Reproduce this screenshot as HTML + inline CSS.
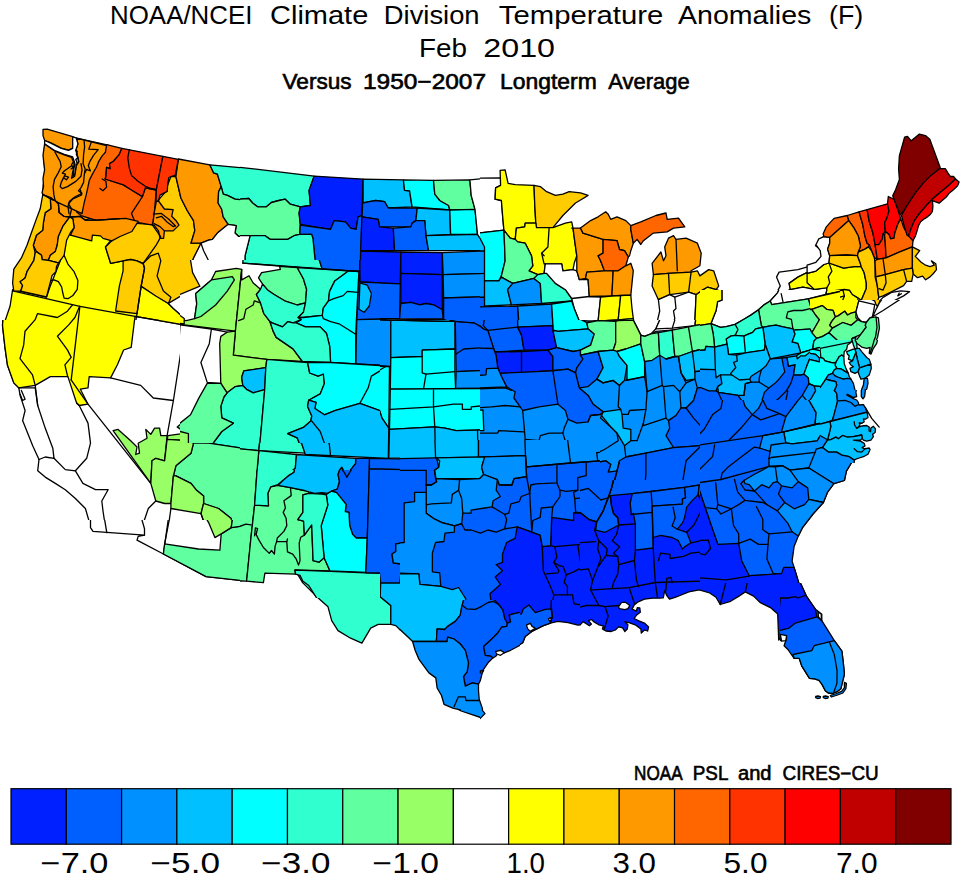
<!DOCTYPE html>
<html><head><meta charset="utf-8"><title>NOAA/NCEI Climate Division Temperature Anomalies (F) Feb 2010</title>
<style>
html,body{margin:0;padding:0;background:#fff;}
body{width:961px;height:875px;overflow:hidden;font-family:"Liberation Sans",sans-serif;}
svg{display:block;position:absolute;left:0;top:0;}
text{font-family:"Liberation Sans",sans-serif;fill:#000;}
.map polygon{stroke:#000;stroke-width:1.3;stroke-linejoin:round;}
.map polyline{stroke:#000;stroke-width:1.3;stroke-linejoin:round;stroke-linecap:round;}
.leg rect{stroke:#000;stroke-width:1.2;}
</style></head><body>
<svg width="961" height="875" viewBox="0 0 961 875">
<defs>
<clipPath id="c0"><rect x="0" y="100" width="240" height="220"/></clipPath>
<clipPath id="c1"><rect x="240" y="100" width="240" height="220"/></clipPath>
<clipPath id="c2"><rect x="480" y="100" width="240" height="220"/></clipPath>
<clipPath id="c3"><rect x="720" y="100" width="241" height="220"/></clipPath>
<clipPath id="c4"><rect x="0" y="320" width="240" height="200"/></clipPath>
<clipPath id="c5"><rect x="240" y="320" width="240" height="200"/></clipPath>
<clipPath id="c6"><rect x="180" y="260" width="200" height="183"/></clipPath>
<clipPath id="c7"><rect x="480" y="320" width="240" height="200"/></clipPath>
<clipPath id="c8"><rect x="720" y="320" width="241" height="200"/></clipPath>
<clipPath id="c9"><rect x="700" y="290" width="140" height="128"/></clipPath>
<clipPath id="c10"><rect x="810" y="300" width="90" height="82"/></clipPath>
<clipPath id="c11"><rect x="0" y="520" width="240" height="220"/></clipPath>
<clipPath id="c12"><rect x="240" y="520" width="240" height="220"/></clipPath>
<clipPath id="c13"><rect x="240" y="470" width="140" height="128"/></clipPath>
<clipPath id="c14"><rect x="480" y="520" width="240" height="220"/></clipPath>
<clipPath id="c15"><rect x="400" y="440" width="200" height="183"/></clipPath>
<clipPath id="c16"><rect x="480" y="600" width="120" height="110"/></clipPath>
<clipPath id="c17"><rect x="400" y="600" width="120" height="110"/></clipPath>
<clipPath id="c18"><rect x="720" y="520" width="241" height="220"/></clipPath>
<clipPath id="c19"><rect x="580" y="480" width="200" height="183"/></clipPath>
<clipPath id="c20"><rect x="700" y="400" width="200" height="183"/></clipPath>
<clipPath id="c21"><rect x="820" y="340" width="80" height="73"/></clipPath>
<clipPath id="c22"><rect x="820" y="390" width="80" height="73"/></clipPath>
</defs>
<rect x="0" y="0" width="961" height="875" fill="#fff"/>
<text x="110" y="24.2" font-size="25.6" textLength="142.5" lengthAdjust="spacingAndGlyphs">NOAA/NCEI</text>
<text x="270" y="24.2" font-size="25.6" textLength="98.3" lengthAdjust="spacingAndGlyphs">Climate</text>
<text x="383.8" y="24.2" font-size="25.6" textLength="95.8" lengthAdjust="spacingAndGlyphs">Division</text>
<text x="498.8" y="24.2" font-size="25.6" textLength="164.5" lengthAdjust="spacingAndGlyphs">Temperature</text>
<text x="678" y="24.2" font-size="25.6" textLength="133.3" lengthAdjust="spacingAndGlyphs">Anomalies</text>
<text x="829" y="24.2" font-size="25.6" textLength="34.3" lengthAdjust="spacingAndGlyphs">(F)</text>
<text x="419" y="57" font-size="25.6" textLength="48" lengthAdjust="spacingAndGlyphs">Feb</text>
<text x="483.3" y="57" font-size="25.6" textLength="71.7" lengthAdjust="spacingAndGlyphs">2010</text>
<text x="282.5" y="88.7" font-size="21.4" textLength="69.2" lengthAdjust="spacingAndGlyphs" stroke="#000" stroke-width="0.6">Versus</text>
<text x="363" y="88.7" font-size="21.4" textLength="123" lengthAdjust="spacingAndGlyphs" stroke="#000" stroke-width="0.6">1950−2007</text>
<text x="500" y="88.7" font-size="21.4" textLength="96.7" lengthAdjust="spacingAndGlyphs" stroke="#000" stroke-width="0.6">Longterm</text>
<text x="608.3" y="88.7" font-size="21.4" textLength="81.3" lengthAdjust="spacingAndGlyphs" stroke="#000" stroke-width="0.6">Average</text>
<g class="map">
<g clip-path="url(#c0)">
<polygon fill="#ffff00" points="140.7,235.7 67.9,234.4 60.3,260.8 50.3,285.9 46.5,297.2 12.6,289.7 10.1,306 5,321.1 1.3,336.2 251.3,336.2 186,326.1 184.7,318.6 173.4,308.5 168.4,303.5 140.7,285.9 143.2,263.3 123.1,260.8 110.6,263.3 105.5,247 110.6,240.7"/>
<polygon fill="#ffffff" points="135,316.3 185,325.1 186,336.2 133.2,336.2"/>
<polyline fill="none" points="13.8,291.2 79.9,306.3 135,316.3 185,325.1 236.2,332.2"/>
<polygon fill="#ff9900" points="44.7,145.2 76.6,138.1 108.1,145.2 100.5,172.8 88,219.3 72.9,220.6 60.3,216.8 50.3,203 42.7,196.7 43.2,185.4 45.2,175.3 44,160.3"/>
<polygon fill="#ffcc00" points="164.6,192.9 170.9,176.6 175.9,176.6 180.9,198 187.2,210.5 193.5,220.6 194.8,230.6 191,243.2 201,243.2 193.5,258.3 191,265.8 193.5,275.9 198.5,285.9 180.9,296 168.4,303.5 155.8,296 140.7,285.9 143.2,263.3 137,260.8 130.7,259.5 123.1,260.8 110.6,263.3 105.5,247 114.3,238.2 131.9,223.1 152,224.3 157.1,201.7"/>
<polygon fill="#ffcc00" points="123.1,260.8 130.7,259.5 137,260.8 143.2,263.8 144.5,268.3 141.2,285.9 137,313.6 115.6,311 119.4,285.9 123.1,270.8"/>
<polygon fill="#ff9900" points="178.4,159 209.8,164.8 213.6,172.8 217.4,174.1 221.2,186.6 218.6,191.7 218.1,203 221.7,209.3 223.2,216.8 228.2,224.3 217.4,233.1 212.4,239.4 208.6,240.2 201,243.2 191,243.2 194.8,230.6 193.5,220.6 187.2,210.5 180.9,198 175.9,176.6"/>
<polygon fill="#30ffd0" points="209.8,164.8 251.3,168.6 251.3,200.5 235,199.2 227.4,195.4 223.2,194.2 221.2,186.6 217.4,174.1 213.6,172.8"/>
<polygon fill="#60ffa0" points="221.2,186.6 223.2,194.2 227.4,195.4 235,199.2 251.3,200.5 251.3,235.7 238.7,236.4 235,233.1 236.2,225.6 228.2,224.3 223.2,216.8 221.7,209.3 218.1,203 218.6,191.7"/>
<polygon fill="#ffffff" points="201,243.2 208.6,240.2 212.4,239.4 217.4,233.1 228.2,224.3 236.2,225.6 235,233.1 238.7,236.4 251.3,235.7 251.3,268.3 237.5,268.8 213.6,273.4 201,285.9 198.5,285.9 193.5,275.9 191,265.8 193.5,258.3"/>
<polygon fill="#ffffff" points="168.4,303.5 180.9,296 196,290.9 198.5,301 193.5,318.6 188.5,319.1 184.7,318.6 173.4,308.5"/>
<polygon fill="#60ffa0" points="213.6,273.4 237.5,268.8 233.7,280.9 226.2,296 211.1,311 201,318.6 193.5,318.6 198.5,301 196,290.9 198.5,285.9 201,285.9"/>
<polygon fill="#99ff66" points="184.7,318.6 188.5,319.1 193.5,318.6 201,318.6 211.1,311 226.2,296 233.7,280.9 237.5,268.8 251.3,268.3 251.3,336.2 186,336.2 186,326.1"/>
<polygon fill="#ff6600" points="106.6,144.6 121.9,148.3 119,154.9 113.2,161.5 109.5,163.6 110.2,168.8 106.6,167.3 105.9,176.8 105.1,179 123.4,184.9 131.5,190 142.4,196.6 145.4,187.8 156.3,190 154.4,211.9 152.7,225.1 131.5,221.4 119,219.2 108.8,219.5 97.1,220.7 81,215.6 76.6,211.9 82.4,188.5 91.2,166.6 98.5,157.8 99.3,150.5"/>
<polygon fill="#ff3300" points="121.9,148.3 162.9,156.3 156.3,190 145.4,187.8 142.4,196.6 131.5,190 123.4,184.9 105.1,179 105.9,176.8 106.6,167.3 110.2,168.8 109.5,163.6 113.2,161.5 119,154.9"/>
<polygon fill="#ff3300" points="162.9,156.3 178.3,159.3 175.3,175.4 172.4,176.1 168.8,177.5 167.6,185.6 167.3,191.4 160,195.1 158.5,201 156,201.7 156.3,190"/>
<polyline fill="none" points="129.3,149.7 127.8,157.8 129.3,168 131.5,175.4 138,181.2 145.4,186.3 151.2,188.5 156.3,189.5"/>
<polyline fill="none" points="142.4,196.6 131.5,213.4 135.1,222.2"/>
<polyline fill="none" points="102.2,179 105.9,181.2 106.6,187.1 102.9,190.7 100,188.5"/>
<polygon fill="#ff9900" points="156.3,201.7 158.5,201 164.4,209 173.1,209.7 171.7,216.3 176.1,220.7 179,225.1 173.1,230.9 164.4,230.9 163.6,238.3 160,238.3 158.5,230.9 154.1,225.1 152.7,225.1 154.4,211.9"/>
<polyline fill="none" points="153.4,214.1 161.4,213.4 168.8,219.2 175.3,225.8"/>
<polyline fill="none" points="156.3,217.8 161.4,216.3 167.3,222.2 173.1,226.6 175.3,225.8"/>
<polyline fill="none" points="154.1,223.6 160,226.6 164.4,230.9"/>
<polygon fill="#ff9900" points="43,129.4 47.2,129.2 72.7,136.6 72.7,148.1 68.5,150.2 61.2,148.1 50.8,142.9 44.6,140.3 43,135.6"/>
<polygon fill="#ff9900" points="76.3,138.2 106.5,145.5 105.4,152.3 101.8,156.4 98.7,161.6 96.6,166.8 92.4,174.1 89.3,180.4 87.8,187.6 86.2,194.9 84.1,203.2 82,213.7 55,201.2 50.8,197.5 43.5,194.9 42,192.8 43.5,186.6 43,178.3 44.6,169.9 43,155.4 44.6,143.9 55,151.2 64.3,154.9 71.6,157.5 74.2,163.7 73.2,169.9 71.6,178.3 74.7,176.2 76.3,165.8 78.9,161.6 77.3,155.4 75.8,150.2 77.9,143.9"/>
<polygon fill="#ffffff" points="72.7,136.6 76.3,138.2 77.9,143.9 75.8,150.2 77.3,155.4 78.4,161.6 76.3,164.7 74.7,174.1 72.9,176.7 73.7,169.9 75,163.7 72.7,156.9 64.3,154.3 55,150.7 44.6,143.7 44.6,140.5 50.8,143.1 61.2,148.3 68.5,150.4 72.7,148.3"/>
<polyline fill="none" points="75.8,150.2 77.3,151.2 76.3,154.3 77.9,157.5 75.8,159.5 77,162.7"/>
<polyline fill="none" points="73.7,161.6 71.6,164.7 72.9,167.9 71.1,168.9"/>
<polyline fill="none" points="65.4,176.2 68.5,177.2 66.4,179.8 64.3,178.3"/>
<polyline fill="none" points="55,152.3 60.2,161.6 61.2,166.8 58.1,173.1 54.5,179.3 53.1,186.6 53.9,194.9 55,200.1"/>
<polyline fill="none" points="71.6,165.8 64.3,171 62.3,173.1 65.4,174.1 61.2,182.4 60.2,186.6 62.3,188.7 67.5,186.6 75.8,181.4 81,176.2 82,169.9 81,163.7"/>
<polyline fill="none" points="84.1,140.3 84.6,147.1 83.6,154.3 83.1,163.7 85.2,168.9 84.1,176.2 83.6,182.4 81,187.6 78.4,190.8 82,193.4 74.7,197 69.5,201.2 68,206.4 69,213.7"/>
<polyline fill="none" points="91.4,141.9 88.8,149.1 98.2,149.7 93.5,155.4 89.8,161.6 88.3,165.8 90.4,171 86.7,169.4 84.6,173.1"/>
<polygon fill="#ff9900" points="70.4,217 80.4,216.4 85.4,220.2 98,220.2 125.7,218.3 138.2,221.4 131.9,231.5 120,236.5 111.8,240.9 103,238.4 100.5,235.9 92.4,235.2 91.7,240.9 70.4,235.2 74.1,227.7 72.9,218.9"/>
<polygon fill="#ff9900" points="50.3,198.8 55.3,200.7 58.4,203.8 59.1,212.6 64.1,216.4 69.7,217 62.8,226.4 58.4,236.5 57.2,245.3 55.3,251.6 50.3,255.3 48.4,260.4 42.1,259.7 41.5,255.3 36.4,251.6 33.3,245.3 36.4,235.2 42.7,230.2 43.4,222.7 45.2,212.6 50.9,208.8"/>
<polygon fill="#ffcc00" points="42.7,195 45.2,195.7 50.3,198.8 50.9,208.8 45.2,212.6 43.4,222.7 42.7,230.2 36.4,235.2 33.3,245.3 35.2,252.8 33.9,260.4 27,271.7 25.1,278 20.1,281.7 22.6,285.5 20.7,291.2 13.8,291.2 12.6,283 13.8,269.2 21.4,257.9 27,245.3 31.4,232.7 36.4,218.9 40.2,208.8"/>
<polygon fill="#ffcc00" points="69.7,217 72.9,218.9 74.1,227.7 70.4,232.7 66.6,240.3 64.1,255.3 58.4,262.9 48.4,260.4 50.3,255.3 55.3,251.6 57.2,245.3 58.4,236.5 62.8,226.4"/>
<polygon fill="#ffcc00" points="35.2,252.8 36.4,251.6 41.5,255.3 42.1,259.7 48.4,260.4 58.4,262.9 56.5,266.6 55.9,271.7 52.1,275.4 46.5,296.8 20.7,291.2 22.6,285.5 20.1,281.7 25.1,278 27,271.7 33.9,260.4"/>
<polyline fill="none" points="64.1,255.3 67.9,264.1 74.1,271.7 77.9,280.5 77.3,289.3 72.9,295.5 67.9,298.7 64.1,298.1 62.8,293 61.6,286.8 58.4,281.7 54,279.8 51.5,280.5"/>
<polyline fill="none" points="42.7,195 45.2,195.7 50.3,198.8 55.3,200.7 58.4,203.8 59.1,212.6 64.1,216.4 70.4,217 80.4,216.4 85.4,220.2 98,220.2 120,218.6"/>
<polyline fill="none" points="69.7,217 71.6,208.8 68.5,203.8 72.9,198.8 81.7,195 80.4,190"/>
<polyline fill="none" points="152,224.3 160.8,236.9 155.8,245.7 143.2,263.3 144.5,268.3 141.2,285.9 137,313.6 133.2,336.2"/>
<polyline fill="none" points="143.2,263.3 150.8,255.8 158.3,253.2 160.8,260.8 157.1,275.9 163.4,290.9 170.9,297.2 168.4,303.5"/>
<polyline fill="none" points="201,243.2 203.6,250.7 208.6,260.8 213.6,273.4"/>
<polyline fill="none" points="237.5,268.8 238.7,301 240,336.2"/>
</g>
<g clip-path="url(#c1)">
<polygon fill="#30ffd0" points="227.4,165.8 240,167.3 314.1,176.1 309.1,190.4 310.4,205.5 300.3,206.8 290.3,204.2 285.2,199.2 279,200.5 271.4,202.5 266.4,206.8 257.6,206.8 252.6,203 248.8,198.5 240,199.2 227.4,198"/>
<polygon fill="#60ffa0" points="227.4,198 240,199.2 248.8,198.5 252.6,203 257.6,206.8 266.4,206.8 271.4,202.5 279,200.5 285.2,199.2 290.3,204.2 300.3,206.8 299.1,213 300.3,224.3 299.8,234.4 294,235.7 287.7,239.4 270.2,239.4 265.1,235.7 250.1,235.7 227.4,235.7"/>
<polygon fill="#0020ff" points="314.1,176.1 363.1,179.1 361.9,215.5 358.1,216.8 356.1,229.4 350.6,228.1 345.5,221.8 334.2,220.6 330.5,229.4 300.3,224.3 299.1,213 300.3,206.8 310.4,205.5 309.1,190.4"/>
<polygon fill="#0060ff" points="300.3,225.1 330.5,229.4 334.2,220.6 345.5,221.8 350.6,228.1 356.1,229.4 358.1,216.8 361.9,215.5 360.6,270.8 322.9,268.8 315.4,263.3 312.9,238.2 311.6,234.4 299.8,234.4"/>
<polygon fill="#30ffd0" points="250.1,235.7 265.1,235.7 270.2,239.4 287.7,239.4 294,235.7 299.8,234.4 311.6,234.4 312.9,238.2 315.4,263.3 322.9,268.8 245,262 245,255.8"/>
<polygon fill="#ffffff" points="227.4,235.7 250.1,235.7 245,255.8 245,262 227.4,260.8"/>
<polygon fill="#00c0ff" points="363.1,179.1 403.4,179.9 404.6,190.4 409.6,190.9 412.1,206.8 388.3,208 384.5,201.7 375.7,200.5 369.4,201.7 363.1,203"/>
<polygon fill="#00ffff" points="403.4,179.9 433.5,180.4 434.8,194.2 439.8,200.5 448.6,205.5 449.8,210 412.1,206.8 409.6,190.9 404.6,190.4"/>
<polygon fill="#60ffa0" points="433.5,180.4 469.9,179.9 471.2,195.4 475,209.3 449.8,210 448.6,205.5 439.8,200.5 434.8,194.2"/>
<polygon fill="#0060ff" points="362.6,203 369.4,201.7 375.7,200.5 384.5,201.7 388.3,208 417.2,208 415.9,220.6 412.1,223.1 410.9,226.9 379.5,226.9 378.2,219.3 362.1,216.8"/>
<polygon fill="#0020ff" points="361.9,216.8 378.2,219.3 379.5,226.9 393.3,228.1 394.6,250.7 360.6,250.7"/>
<polygon fill="#00c0ff" points="417.2,208 449.8,210 450.6,234.4 426,235.7 424.7,220.6 415.9,220.6"/>
<polygon fill="#00ffff" points="449.8,210 475,209.3 477.5,234.4 450.6,234.4"/>
<polygon fill="#0060ff" points="393.3,228.1 410.9,226.9 412.1,223.1 415.9,220.6 424.7,220.6 426,235.7 428.5,250.7 394.6,250.7"/>
<polygon fill="#00c0ff" points="426,235.7 477.5,234.4 480,238.2 491.3,239.4 491.3,250.7 428.5,250.7"/>
<polygon fill="#ffffff" points="469.9,179.9 491.3,177.9 491.3,239.4 480,238.2 477.5,234.4 475,209.3 471.2,195.4"/>
<polygon fill="#0020ff" points="360.6,251.2 400.8,252 400.3,283.9 360.1,282.1"/>
<polygon fill="#0020ff" points="400.8,252 442.3,252.7 442.3,274.6 400.8,273.4"/>
<polygon fill="#0090ff" points="442.3,252.7 491.3,250.7 491.3,273.4 443.1,274.6"/>
<polygon fill="#0060ff" points="360.1,282.1 400.3,283.9 399.6,318.6 357.6,318.6"/>
<polygon fill="#00c0ff" points="360.1,282.1 365.7,283.4 370.7,288.4 371.9,296 368.2,306 364.4,312.3 358.1,308.5"/>
<polygon fill="#0020ff" points="400.8,273.4 442.3,274.6 442.3,309.8 433.5,304.8 426,303.5 419.7,304.8 410.9,302.3 400.8,303.5"/>
<polygon fill="#0060ff" points="400.8,303.5 410.9,302.3 419.7,304.8 426,303.5 433.5,304.8 442.3,309.8 443.1,319.1 399.6,318.6"/>
<polygon fill="#0090ff" points="443.1,274.6 491.3,273.4 491.3,296.5 443.6,298"/>
<polygon fill="#0060ff" points="443.6,298 491.3,296.5 491.3,323.6 456.1,324.9 443.6,319.8"/>
<polygon fill="#0090ff" points="357.6,318.6 390.8,319.8 390.8,336.2 355.6,336.2"/>
<polygon fill="#00c0ff" points="390.8,319.8 443.1,319.1 456.1,324.9 456.1,336.2 390.8,336.2"/>
<polygon fill="#0060ff" points="456.1,324.9 491.3,323.6 491.3,336.2 456.1,336.2"/>
<polygon fill="#99ff66" points="227.4,270.8 248.8,275.9 255.1,285.9 261.4,287.2 257.6,290.9 255.1,301 265.1,313.6 272.7,336.2 227.4,336.2"/>
<polygon fill="#ffffff" points="245,262.5 280.2,265.1 277.7,270.8 260.1,273.4 257.6,278.4 263.9,283.4 261.4,287.2 255.1,285.9 248.8,275.9 227.4,270.8 227.4,260.8"/>
<polygon fill="#60ffa0" points="260.1,273.4 277.7,270.8 297.8,272.1 302.8,278.4 306.6,285.9 307.9,301 290.3,304.8 281.5,302.3 275.2,298.5 270.2,293.5 267.6,289.7 263.9,283.4 257.6,278.4"/>
<polygon fill="#30ffd0" points="257.6,290.9 261.4,287.2 263.9,283.4 267.6,289.7 270.2,293.5 275.2,298.5 281.5,302.3 290.3,304.8 302.8,304.8 300.3,318.6 287.7,322.4 270.2,323.6 272.7,336.2 265.1,313.6 255.1,301"/>
<polygon fill="#30ffd0" points="280.2,265.1 349.3,270.3 335.5,283.4 328,296 328,303.5 322.9,311 320.4,318.6 300.3,318.6 302.8,304.8 307.9,301 306.6,285.9 302.8,278.4 297.8,272.1 277.7,270.8"/>
<polygon fill="#00ffff" points="349.3,270.3 360.1,271.1 358.1,336.2 270.2,336.2 270.2,323.6 287.7,322.4 300.3,318.6 320.4,318.6 322.9,311 328,303.5 328,296 335.5,283.4"/>
<polyline fill="none" points="245,262.5 360.1,271.1"/>
<polyline fill="none" points="322.9,311 335.5,301 345.5,293.5 358.1,296"/>
<polyline fill="none" points="297.8,318.6 315.4,317.3 322.9,323.6 340.5,326.1 348.1,336.2"/>
</g>
<g clip-path="url(#c2)">
<polygon fill="#ffffff" points="467.4,178.4 500.6,177.9 500.6,185.4 495.6,187.9 495.1,199.2 501.4,200.5 502.6,215.5 503.9,230.1 467.4,234.4"/>
<polygon fill="#ffff00" points="500.1,170.3 505.1,169.8 508.1,183.4 515.2,184.6 534,185.4 534.8,205.5 535.8,223.1 525.2,223.1 524.7,226.9 516.4,228.1 515.2,239.4 510.2,238.2 503.9,230.1 502.6,215.5 501.4,200.5 495.1,199.2 495.6,187.9 500.6,185.4"/>
<polygon fill="#ffcc00" points="534,185.4 540.3,186.6 546.6,191.7 555.4,195.4 562.9,194.2 569.2,191.7 580.5,192.9 588.1,195.4 581.8,199.2 575.5,203 569.2,209.3 562.9,215.5 552.9,227.6 536.5,227.6 535.8,223.1 534.8,205.5"/>
<polygon fill="#ffff00" points="516.4,228.1 524.7,226.9 525.2,223.1 535.8,223.1 536.5,227.6 552.9,227.6 565.4,223.1 571.7,221.8 573,228.1 575,243.2 576.8,255.8 574.2,263.3 573,269.6 562.9,270.8 561.7,263.8 545.3,263.8 544.1,273.4 537.8,274.6 529,270.8 532.8,265.8 531.5,255.8 525.2,243.2 517.7,241.9 515.2,239.4"/>
<polyline fill="none" points="549.1,228.1 547.9,247 541.6,253.2 544.1,263.8 545.3,263.8"/>
<polyline fill="none" points="541.6,253.2 544.1,255.8"/>
<polygon fill="#00ffff" points="467.4,234.4 503.9,230.1 504.6,245.7 505.1,260.8 501.4,275.9 498.8,280.9 485,280.9 467.4,282.1"/>
<polygon fill="#60ffa0" points="503.9,230.1 510.2,238.2 515.2,239.4 517.7,241.9 525.2,243.2 531.5,255.8 532.8,265.8 529,270.8 537.8,274.6 534,278.4 512.7,283.4 501.4,277.1 501.4,275.9 505.1,260.8 504.6,245.7"/>
<polygon fill="#00c0ff" points="467.4,282.1 485,280.9 498.8,280.9 501.4,277.1 512.7,283.4 507.6,289.7 511.4,304.8 486.3,306 467.4,306.5"/>
<polygon fill="#0090ff" points="512.7,283.4 534,278.4 540.3,283.4 541.6,303.5 511.4,304.8 507.6,289.7"/>
<polygon fill="#30ffd0" points="534,278.4 537.8,274.6 544.1,273.4 546.6,273.4 555.4,283.4 565.4,289.7 571.7,298.5 571.7,301 541.6,303.5 540.3,283.4"/>
<polygon fill="#00c0ff" points="467.4,236.9 480,238.2 484.5,247 484.5,251.2 467.4,251.2"/>
<polygon fill="#0090ff" points="467.4,251.2 484.5,251.2 484.5,297.2 467.4,298"/>
<polyline fill="none" points="467.4,273.9 484.5,273.4"/>
<polygon fill="#0060ff" points="467.4,298 484.5,297.2 484.5,306.5 483.3,308 485.3,313.8 483.3,325.6 487.5,329.9 487.5,336.2 467.4,336.2"/>
<polygon fill="#ffffff" points="545.3,263.8 561.7,263.8 562.9,270.8 573,269.6 576.8,270.8 579.3,279.6 588.1,279.6 589.3,296.5 600.6,297.2 598.1,321.1 579.3,321.1 574.2,308.5 571.7,298.5 565.4,289.7 555.4,283.4 546.6,273.4 544.1,273.4"/>
<polyline fill="none" points="571.7,298.5 589.3,296.5"/>
<polygon fill="#0060ff" points="467.4,307.3 517.7,306 519,326.1 519,336.2 467.4,336.2"/>
<polygon fill="#0090ff" points="517.7,306 551.6,304 552.9,323.6 552.9,336.2 519,336.2 519,326.1"/>
<polygon fill="#00ffff" points="551.6,304 571.7,301 574.2,308.5 579.3,321.1 588.1,326.1 590.6,336.2 552.9,336.2 552.9,323.6"/>
<polygon fill="#ff9900" points="571.7,228.1 580.5,228.1 583,233.1 603.1,239.4 603.1,253.2 598.1,255.8 600.6,260.8 604.4,270.8 586.8,272.1 585.5,278.4 579.3,279.6 576.8,270.8 576.8,255.8 575,243.2 573,228.1"/>
<polygon fill="#ff9900" points="580.5,228.1 590.6,220.6 598.1,216.8 605.7,211.8 608.2,214.3 610.7,219.3 617,216.8 625.8,220.6 630.8,225.6 630.8,229.4 633.3,243.2 630.8,250.7 629.5,255.8 628.3,257 624.5,250.7 619.5,249.5 617,240.7 603.1,239.4 583,233.1"/>
<polygon fill="#ff6600" points="603.1,239.4 617,240.7 619.5,249.5 624.5,250.7 628.3,257 625.8,265.8 618.2,270.8 604.4,270.8 600.6,260.8 598.1,255.8 603.1,253.2"/>
<polygon fill="#ff9900" points="586.8,272.1 604.4,270.8 613.2,270.8 611.9,296 589.3,296.5 588.1,279.6 585.5,278.4"/>
<polygon fill="#ff9900" points="613.2,270.8 618.2,270.8 625.8,265.8 630.8,263.3 633.3,270.8 632,283.4 630.8,295.2 611.9,296"/>
<polygon fill="#ffff00" points="600.6,297.2 611.9,296 620.7,295.5 618.2,319.8 598.1,321.1"/>
<polygon fill="#ffff00" points="620.7,295.5 630.8,295.2 632,308.5 633.3,318.6 618.2,319.8"/>
<polygon fill="#60ffa0" points="588.1,326.1 598.1,321.1 618.2,319.8 617,336.2 590.6,336.2"/>
<polygon fill="#99ff66" points="618.2,319.8 633.3,318.6 637.1,336.2 617,336.2"/>
<polygon fill="#ff6600" points="630.8,225.6 640.8,221.8 655.9,215.5 666,213 667.2,219.3 678.5,218.1 684.8,226.9 673.5,228.1 667.2,231.9 653.4,233.1 643.4,240.7 640.8,244.5 637.1,239.4 633.3,243.2 630.8,229.4"/>
<polygon fill="#ff9900" points="668.5,238.2 673.5,235.7 676,239.4 686.1,238.2 697.4,243.2 701.2,253.2 699.9,265.8 691.1,270.8 691.1,272.1 668.5,273.4 653.4,274.6 652.1,263.3 660.9,252 663.5,260.8 666,255.8 664.7,247"/>
<polyline fill="none" points="676,239.4 677.3,270.8"/>
<polygon fill="#ffcc00" points="653.4,274.6 668.5,273.4 691.1,272.1 697.4,270.8 699.9,275.9 708.7,269.6 713.7,270.8 718.7,285.9 716.2,289.7 707.4,287.2 701.2,290.9 696.1,294.7 688.6,292.2 669.7,294.7 658.4,299.7 652.1,285.9"/>
<polyline fill="none" points="668.5,273.4 669.7,294.7"/>
<polyline fill="none" points="691.1,272.1 688.6,292.2"/>
<polygon fill="#ffffff" points="658.4,299.7 669.7,294.7 674.8,297.2 688.6,292.2 696.1,294.7 694.9,321.1 672.3,326.1 655.9,327.4 659.7,311"/>
<polyline fill="none" points="674.8,297.2 676,308.5 673.5,311 674.8,318.6 672.3,326.1"/>
<polygon fill="#ffff00" points="696.1,294.7 701.2,290.9 707.4,287.2 716.2,289.7 720,290.9 720,301 716.2,308.5 711.2,321.1 694.9,324.9 694.9,321.1"/>
<polygon fill="#60ffa0" points="655.9,327.4 672.3,326.1 694.9,323.6 711.2,321.1 731.3,318.6 731.3,336.2 653.4,336.2"/>
</g>
<g clip-path="url(#c3)">
<polygon fill="#30ffd0" points="707.4,326.1 720,321.1 735.1,313.6 757.7,309.8 760.2,336.2 707.4,336.2"/>
<polygon fill="#60ffa0" points="757.7,309.8 770.3,304.8 808,298.5 811.7,308.5 802.9,311 787.9,313.6 786.6,318.6 792.9,323.6 790.4,336.2 760.2,336.2"/>
<polygon fill="#60ffa0" points="786.6,318.6 787.9,313.6 802.9,311 811.7,308.5 819.3,306 833.1,308.5 838.1,316.1 843.1,336.2 790.4,336.2 792.9,323.6"/>
<polygon fill="#ffffff" points="823,236.9 830.6,238.2 828.1,247 830.6,257 830.6,263.3 820.5,265.8 797.9,277.1 789.1,283.4 790.4,289.7 781.6,293.5 782.8,302.3 770.3,304.8 780.3,285.9 776.5,277.1 779.1,272.1 797.9,269.6 815.5,264.6 823,258.3 820.5,249.5 815.5,245.7 820.5,240.7"/>
<polygon fill="#ffff00" points="789.1,283.4 797.9,277.1 820.5,265.8 830.6,263.3 831.8,268.3 828.1,275.9 826.8,287.2 815.5,289.7 802.9,287.2 790.4,289.7"/>
<polygon fill="#ffffff" points="781.6,293.5 790.4,289.7 802.9,287.2 815.5,289.7 826.8,287.2 826.8,293 808,298.5 782.8,302.3"/>
<polygon fill="#99ff66" points="802.7,306.9 820.2,303.3 824.6,307.6 834.1,310.6 837.8,316.4 843.6,315 845.1,310.6 849.5,312 853.9,316.4 856.8,326.7 802.7,326.7"/>
<polygon fill="#ffff00" points="798.3,299.6 810,296.7 842.9,290.1 844.4,289.4 849.5,290.1 852.4,294.5 858.3,298.1 856.8,303.3 855.4,310.6 849.5,312 845.1,310.6 843.6,315 837.8,316.4 834.1,310.6 824.6,307.6 820.2,303.3 810,306.9 798.3,310.6"/>
<polyline fill="none" points="842.9,290.1 844.4,295.9 841.5,303.3 834.1,310.6"/>
<polyline fill="none" points="810,306.9 820.2,303.3 839.3,297.4 844.4,295.9"/>
<polygon fill="#ffff00" points="807.1,273.3 815.9,271.1 823.9,264.5 829,263 839.3,266.7 843.6,268.1 853.9,266.7 861.2,266.7 864.1,272.5 866.3,282.8 866.3,288.6 861.2,300.6 858.3,298.1 852.4,294.5 849.5,290.1 844.4,289.4 826.8,291.6 826.8,287.9 814.4,289.4 807.1,282.8"/>
<polyline fill="none" points="829,263 831.9,271.1 828.3,276.9 829.7,282.8 826.8,287.9"/>
<polygon fill="#ffffff" points="823.9,236.7 829.7,237.4 829.7,243.3 827.6,249.1 829.7,255.7 829,263 823.9,264.5 815.9,271.1 807.1,273.3 807.1,265.2 815.9,262.3 821,256.4 820.2,250.6 815.9,244.7 818.8,238.9"/>
<polygon fill="#ff6600" points="834.1,218.4 847.3,215.5 848.8,220.6 829.7,237.4 823.9,236.7 823.2,233.8 826.1,227.2 830.5,222.1"/>
<polygon fill="#ff6600" points="847.3,215.5 859,211.8 860.5,216.9 862.7,224.3 864.9,236 867.1,243.3 869.2,244.7 868.5,246.9 864.9,249.1 858.3,252.1 860.5,246.2 858.3,236 853.9,227.9 848.8,220.6"/>
<polygon fill="#ff3300" points="859,211.8 867.1,209.6 869.2,221.3 872.9,233 875.1,244.7 877.3,259.4 874.4,257.9 871.4,250.6 869.2,244.7 867.1,243.3 864.9,236 862.7,224.3 860.5,216.9"/>
<polygon fill="#ff9900" points="829.7,237.4 848.8,220.6 853.9,227.9 858.3,236 860.5,246.2 858.3,252.1 857.5,255.7 846.6,255 829.7,255.7 827.6,249.1 829.7,243.3"/>
<polygon fill="#ffcc00" points="829.7,255.7 846.6,255 857.5,255.7 860.5,263.8 861.2,266.7 853.9,266.7 843.6,268.1 839.3,266.7 829,263"/>
<polygon fill="#ffcc00" points="858.3,252.1 864.9,249.1 868.5,246.9 871.4,250.6 874.4,257.9 875.1,263.8 875.1,276.9 877.3,285.7 878.8,297.4 876.6,304 875.1,306.9 874.4,304.3 861.2,300.6 866.3,288.6 866.3,282.8 864.1,272.5 861.2,266.7 860.5,263.8 857.5,255.7"/>
<polygon fill="#ff0000" points="867.1,209.6 887.5,203.8 889,211.1 886.8,218.4 884.6,222.8 885.3,231.6 883.1,233.8 882.4,238.9 878.8,244.7 875.1,244.7 872.9,233 869.2,221.3"/>
<polygon fill="#ff3300" points="875.1,244.7 878.8,244.7 882.4,238.9 883.1,233.8 884.6,235.2 885.3,243.3 886.1,257.9 877.3,259.4"/>
<polygon fill="#ff0000" points="887.5,203.8 888.3,196.5 894.1,199.4 897.8,209.6 900.7,218.4 897.8,224.3 894.8,233 894.1,238.2 890.5,238.9 889,234.5 885.3,231.6 884.6,222.8 886.8,218.4 889,211.1"/>
<polygon fill="#ff6600" points="900.7,218.4 903.6,227.2 908,235.2 913.1,239.6 912.4,246.9 899.2,252.1 886.1,257.9 885.3,243.3 884.6,235.2 885.3,231.6 889,234.5 890.5,238.9 894.1,238.2 894.8,233 897.8,224.3"/>
<polygon fill="#ff9900" points="875.1,260.8 877.3,259.4 886.1,257.9 899.2,252.1 912.4,246.9 912.4,268.1 903.6,269.6 885.3,274.7 875.8,276.9 875.1,263.8"/>
<polyline fill="none" points="883.1,259.4 885.3,274.7"/>
<polygon fill="#ffcc00" points="912.4,246.9 915.3,248.4 919.7,250.6 915.3,256.4 921.2,262.3 925.6,265.2 930,266.7 934.3,265.2 931.4,260.8 935.8,263.8 936.5,269.6 932.9,274 930,276.9 925.6,279.8 922.6,276.2 917.5,277.7 913.1,274 912.4,268.1"/>
<polygon fill="#ffcc00" points="875.8,276.9 885.3,274.7 903.6,269.6 912.4,268.1 913.1,274 911.7,281.3 906.6,281.3 903.6,285.7 891.9,291.6 883.1,295.9 878.8,297.4 877.3,285.7"/>
<polyline fill="none" points="903.6,269.6 906.6,281.3"/>
<polyline fill="none" points="885.3,274.7 886.1,282.8 883.1,290.1 878.8,288.6"/>
<polygon fill="#ffffff" points="876.6,304 883.1,297.4 891.9,292.3 900.7,290.8 909.5,291.6 903.6,295.9 894.8,300.3 886.1,306.2 878.8,312 874.4,316.4 874.4,310.6"/>
<polyline fill="none" points="899.2,293 897.8,295.9 901.4,293.7"/>
<polygon fill="#ffffff" points="861.2,300.6 874.4,304.3 875.1,306.9 875.1,310.6 872.9,316.4 868.5,320.8 864.1,322.3 858.3,316.4 855.4,310.6 856.8,303.3"/>
<polygon fill="#60ffa0" points="868.5,320.8 872.9,316.4 877.3,317.9 878,326.7 853.9,326.7 853.9,316.4 858.3,316.4 864.1,322.3"/>
<polygon fill="#800000" points="904.6,137.1 907.5,136.3 911.2,140.8 919.4,134.1 925.4,135.6 929.8,139.3 940.2,167.5 900.1,215.1 892.7,195.8 895.6,189.8 899.4,179.4 898.6,169 899.4,155.6"/>
<polygon fill="#c00000" points="939.6,168.7 945.3,168.7 947.8,172.9 950.4,176.5 953.5,176.5 955.5,179 948.3,185.7 940.1,192.4 931.9,199.6 925.7,206.3 919.5,213.5 914.4,220.7 911.3,227.9 908.7,235.6 907.2,235.6 904.1,225.8 901.5,215.5 907.2,205.3 915.4,192.9 923.7,182.6 930.9,175.4"/>
<polygon fill="#ff0000" points="955.5,179 956.1,179.5 959.1,182.1 957.6,185.7 953.5,189.8 949.4,192.9 946.3,197 942.2,200.6 939.1,203.2 935,201.7 932.4,200.6 932.9,206.3 932.4,211.4 930.3,214.5 927.8,216.6 924.7,218.6 920.6,221.7 918.5,225.8 917,231 915.4,236.1 912.9,240.8 908.7,236.1 908.7,235.6 911.3,227.9 914.4,220.7 919.5,213.5 925.7,206.3 931.9,199.6 940.1,192.4 948.3,185.7"/>
</g>
<g clip-path="url(#c4)">
<polygon fill="#ffffff" points="5,297.4 2.5,325.1 5,347.7 7.5,365.3 13.8,382.9 18.8,387.9 20.1,395.4 25.1,410.5 22.6,420.6 27.6,433.1 32.7,445.7 39,459.5 37.7,470.8 45.2,477.1 55.3,483.4 65.3,489.7 75.4,498.5 85.4,508.5 90.5,526.1 91.7,536.2 251.3,536.2 251.3,297.4"/>
<polygon fill="#ffff00" points="5,297.4 2.5,325.1 5,347.7 7.5,365.3 13.8,382.9 18.8,387.9 35.2,385.4 50.3,376.6 67.9,376.6 76.6,403 79.2,405.5 88,404.2 80.4,389.2 88,387.9 89.2,376.6 110.6,377.9 117.4,364.8 123.6,350 131.2,347.4 135,316.3 135.7,297.4"/>
<polyline fill="none" points="71.1,379.9 88,404.2 150.8,483.4"/>
<polyline fill="none" points="18.8,387.9 35.2,387.9 37.7,405.5 45.2,428.1 52.8,448.2 54,458.3 45.2,457 39,459.5"/>
<polyline fill="none" points="35.2,385.4 37.7,405.5"/>
<polyline fill="none" points="76.6,403 79.2,405.5 88,423.1 90.5,443.2 86.7,458.3 75.4,470.8 65.3,469.6 54,458.3"/>
<polyline fill="none" points="75.4,470.8 82.9,483.4 95.5,489.7 108.1,489.7 101.8,501 103,511 106.8,536.2"/>
<polyline fill="none" points="21.4,390.4 25.1,399.2 22.6,400.5 20.1,394.2"/>
<polyline fill="none" points="79.9,306.2 135,316.3 185,325.1 236.2,332.1 251.3,333.9"/>
<polyline fill="none" points="185,325.1 173.4,400.5 167.1,435.7 164.6,460.8"/>
<polyline fill="none" points="110.6,377.9 140.7,385.4 153.3,398 173.4,400.5"/>
<polygon fill="#ffff00" points="135,316.3 185,325.1 186,297.4 135.7,297.4"/>
<polygon fill="#99ff66" points="185,325.1 186,297.4 251.3,297.4 251.3,333.9 236.2,332.1"/>
<polygon fill="#ffcc00" points="115.6,297.4 135.7,297.4 134.5,315 115.6,313"/>
<polygon fill="#60ffa0" points="196,320.1 201,310 213.6,305 208.6,317.5 201,321.3"/>
<polygon fill="#99ff66" points="113.1,430.6 118.1,429.4 130.7,440.7 137,447 135.7,454.5 139.5,453.2 138.2,443.2 147,438.2 145.8,429.4 150.8,434.4 154.6,428.1 159.6,428.1 160.8,435.7 167.1,435.7 164.6,460.8 155.8,458.3 152,460.8 150.8,483.4"/>
<polygon fill="#99ff66" points="221.2,333.9 236.2,331.4 251.3,332.6 251.3,387.9 236.2,386.6 226.2,392.9 221.2,384.1 219.9,352.7"/>
<polyline fill="none" points="233.7,332.6 233.7,355.2 251.3,356.5"/>
<polygon fill="#60ffa0" points="177.2,426.9 191,415.5 201,398 208.6,382.9 221.2,384.1 226.2,392.9 221.2,408 221.2,418.1 233.7,423.1 221.2,434.4 208.6,443.2 187.2,440.7 188.5,435.7 186,433.1"/>
<polygon fill="#30ffd0" points="251.3,387.9 236.2,386.6 226.2,392.9 221.2,408 221.2,418.1 233.7,423.1 221.2,434.4 208.6,443.2 251.3,449.5"/>
<polygon fill="#99ff66" points="167.9,435.7 186,433.1 188.5,435.7 187.2,440.7 167.1,439.4"/>
<polyline fill="none" points="211.1,328.8 209.8,342.7 201,362.8 208.6,382.9"/>
<polygon fill="#60ffa0" points="193.5,443.2 208.6,443.2 251.3,449.5 251.3,536.2 232.5,536.2 231.2,518.6 218.6,508.5 203.6,503.5 203.6,496 196,489.7 191,483.4 175.9,475.9 173.4,475.9 175.9,465.8 191,453.2"/>
<polygon fill="#99ff66" points="167.1,439.4 187.2,440.7 193.5,443.2 191,453.2 175.9,465.8 173.4,475.9 170.9,503.5 164.6,503.5 155.8,501 150.8,483.4 152,460.8 155.8,458.3 164.6,460.8"/>
<polygon fill="#99ff66" points="173.4,475.9 175.9,475.9 191,483.4 196,489.7 203.6,496 203.6,503.5 201,513.6 170.9,508.5 170.9,503.5"/>
<polygon fill="#99ff66" points="201,513.6 203.6,503.5 218.6,508.5 231.2,518.6 232.5,536.2 208.6,536.2"/>
<polyline fill="none" points="155.8,501 148.3,508.5 143.2,523.6 145.8,536.2"/>
<polyline fill="none" points="170.9,508.5 167.1,536.2"/>
<polyline fill="none" points="201,513.6 208.6,536.2"/>
</g>
<g clip-path="url(#c5)">
<polygon fill="#99ff66" points="227.4,297.4 262.6,297.4 272.7,325.1 270.2,330.1 302.8,361.5 267.6,359 227.4,354.7"/>
<polygon fill="#30ffd0" points="262.6,297.4 300.3,297.4 297.8,318.8 285.2,322.6 282.7,325.1 290.3,321.3 310.4,326.3 322.9,330.1 329.2,342.7 330.5,362.8 302.8,361.5 270.2,330.1 272.7,325.1"/>
<polygon fill="#00ffff" points="300.3,297.4 356.9,297.4 355.6,364 330.5,362.8 329.2,342.7 322.9,330.1 310.4,326.3 290.3,321.3 282.7,325.1 285.2,322.6 297.8,318.8"/>
<polyline fill="none" points="272.7,325.1 282.7,325.1"/>
<polyline fill="none" points="322.9,317.5 340.5,325.1 355.6,333.9"/>
<polyline fill="none" points="300.3,305 315.4,310 322.9,317.5"/>
<polygon fill="#99ff66" points="227.4,354.7 267.6,359 266.4,367.8 242.5,370.3 240,385.4 227.4,385.4"/>
<polygon fill="#30ffd0" points="227.4,385.4 240,385.4 242.5,386.6 252.6,392.9 265.1,389.2 266.4,367.8 267.6,359 258.8,450.7 227.4,447.7"/>
<polygon fill="#00c0ff" points="242.5,370.3 266.4,367.8 265.1,389.2 252.6,392.9 242.5,386.6 240,385.4"/>
<polygon fill="#30ffd0" points="267.6,359 307.9,362.8 309.1,372.8 320.4,374.1 325.4,380.4 322.9,390.4 315.4,399.2 307.9,400.5 307.9,409.3 311.6,413 310.4,420.6 301.6,428.1 287.7,434.4 294,438.2 301.6,443.2 305.3,453.2 258.8,450.7"/>
<polygon fill="#00ffff" points="307.9,362.8 385.8,366.5 389.5,366.5 388.8,428.1 382,418.1 379.5,410.5 359.4,403 336.8,409.3 322.9,414.3 314.1,408 315.4,399.2 322.9,390.4 325.4,380.4 320.4,374.1 309.1,372.8"/>
<polyline fill="none" points="385.8,366.5 370.7,375.3 368.2,387.9 359.4,403"/>
<polygon fill="#00c0ff" points="307.9,400.5 315.4,399.2 314.1,408 322.9,414.3 336.8,409.3 359.4,403 379.5,410.5 382,418.1 388.8,428.1 388.3,458.3 305.3,454.5 301.6,443.2 294,438.2 287.7,434.4 301.6,428.1 310.4,420.6 311.6,413 307.9,409.3"/>
<polyline fill="none" points="311.6,421.8 320.4,430.6 325.4,440.7 329.2,443.2 330.5,455.3"/>
<polygon fill="#0090ff" points="356.9,297.4 390.8,297.4 390.8,366.5 355.6,364"/>
<polygon fill="#00c0ff" points="390.8,297.4 454.9,297.4 454.9,349 422.2,350.2 422.2,356.5 390.8,357.7"/>
<polygon fill="#00ffff" points="390.8,357.7 422.2,356.5 422.2,350.2 454.9,349 454.9,371.6 455.6,388.4 423.5,389.2 390.3,389.2"/>
<polyline fill="none" points="422.2,356.5 422.2,372.8 426,374.1 423.5,389.2"/>
<polyline fill="none" points="426,374.1 454.9,371.6"/>
<polygon fill="#0060ff" points="454.9,297.4 491.3,297.4 491.3,370.3 456.1,371.6"/>
<polyline fill="none" points="456.1,354 463.7,349 491.3,347.2"/>
<polygon fill="#0090ff" points="456.1,371.6 491.3,370.3 491.3,388.4 455.6,388.4"/>
<polyline fill="none" points="356.9,318.8 390.8,320.1 454.9,321.3 474,322.8 480,326.1 491.3,331.4"/>
<polygon fill="#0060ff" points="356.9,297.4 491.3,297.4 491.3,331.4 480,326.1 474,322.8 454.9,321.3 390.8,320.1 356.9,318.8"/>
<polygon fill="#0090ff" points="356.9,297.4 390.8,297.4 390.8,320.1 356.9,318.8"/>
<polygon fill="#00c0ff" points="390.8,297.4 442.3,297.4 442.3,317.5 454.9,321.3 390.8,320.1"/>
<polygon fill="#00ffff" points="390.3,389.2 491.3,388.4 491.3,429.4 456.1,430.6 444.8,428.1 434.8,426.9 389.5,429.4"/>
<polyline fill="none" points="433.5,389.9 433.5,406.8 434.8,426.9"/>
<polyline fill="none" points="390.3,409.3 433.5,406.8 453.6,404.2 462.4,404.2 462.4,409.3 471.2,409.3 471.2,406.8 491.3,405"/>
<polygon fill="#00c0ff" points="389.5,429.4 434.8,426.9 444.8,428.1 456.1,430.6 477.5,430.1 491.3,429.6 491.3,458.3 388.8,457.8"/>
<polyline fill="none" points="434.8,426.9 435.5,458.3"/>
<polyline fill="none" points="477.5,430.1 478.2,458.3"/>
<polygon fill="#00c0ff" points="437.3,459.5 491.3,458.3 491.3,478.4 459.9,479.6 437.3,480.9 434.8,470.8 438.5,468.3 439.8,462"/>
<polygon fill="#0060ff" points="369.4,458.3 437.3,459.5 439.8,462 438.5,468.3 434.8,470.8 437.3,480.9 432.3,484.7 426,483.4 426,470.1 369.4,468.8"/>
<polygon fill="#0090ff" points="426,484.7 432.3,484.7 437.3,480.9 459.9,479.6 491.3,478.4 491.3,523.6 461.2,526.1 453.6,524.9 438.5,518.6 431,517.3 427.2,513.6 427.2,504.8"/>
<polyline fill="none" points="459.9,479.6 458.6,496 453.6,493.5 452.4,503.5 427.2,504.8"/>
<polyline fill="none" points="458.6,496 461.2,511 491.3,508.5"/>
<polygon fill="#0060ff" points="369.4,468.8 426,470.1 426,492.2 413.4,493.5 413.4,502.3 404.6,503.5 405.9,536.2 366.9,536.2"/>
<polygon fill="#0090ff" points="413.4,493.5 426,492.2 427.2,513.6 431,517.3 438.5,518.6 453.6,524.9 461.2,526.1 463.7,536.2 405.9,536.2 404.6,503.5 413.4,502.3"/>
<polygon fill="#0060ff" points="355.6,458.3 369.4,458.3 366.9,536.2 350.6,536.2 348.1,511 336.8,489.7 338,475.9 336.8,473.4 341.8,467.1 344.3,472.1 348.1,477.1 350.6,469.6 355.6,463.3"/>
<polygon fill="#30ffd0" points="258.8,450.7 296.5,454.5 295.3,468.3 287.7,474.6 277.7,484.7 268.9,488.4 266.4,504.8 253.8,506"/>
<polygon fill="#00c0ff" points="296.5,454.5 355.6,458.3 355.6,463.3 350.6,469.6 348.1,477.1 344.3,472.1 341.8,467.1 336.8,473.4 338,475.9 336.8,489.7 324.2,493.5 306.6,494.7 294,489.7 277.7,484.7 287.7,474.6 295.3,468.3"/>
<polygon fill="#60ffa0" points="268.9,488.4 277.7,484.7 294,489.7 291.5,497.2 285.2,501 286.5,518.6 287.7,536.2 251.3,536.2 253.8,506 266.4,504.8"/>
<polygon fill="#60ffa0" points="294,489.7 306.6,494.7 302.8,501 300.3,518.6 295.3,523.6 295.3,536.2 287.7,536.2 286.5,518.6 285.2,501 291.5,497.2"/>
<polygon fill="#60ffa0" points="306.6,494.7 324.2,493.5 329.2,503.5 325.4,506 325.4,516.1 320.4,536.2 295.3,536.2 295.3,523.6 300.3,518.6 302.8,501"/>
<polygon fill="#00ffff" points="324.2,493.5 336.8,489.7 348.1,511 350.6,536.2 320.4,536.2 325.4,516.1 325.4,506 329.2,503.5"/>
<polygon fill="#60ffa0" points="227.4,447.7 258.8,450.7 251.3,536.2 227.4,536.2"/>
</g>
<g clip-path="url(#c6)">
<polygon fill="#ffffff" points="169.5,249.5 389.2,249.5 389.2,448.3 169.5,448.3"/>
<polygon fill="#30ffd0" points="243.8,249.5 316,249.5 322.3,269.4 242.8,263.1"/>
<polygon fill="#0060ff" points="316,249.5 359.9,249.5 359.9,271.5 322.3,269.4"/>
<polygon fill="#0020ff" points="359.9,249.5 389.2,249.5 389.2,283.4 359.9,282"/>
<polygon fill="#0060ff" points="359.9,282 389.2,283.4 389.2,319 356.8,319.6 358.9,271.5"/>
<polygon fill="#00c0ff" points="359.9,283 367.2,285.1 371.4,293.5 369.3,306 364.1,312.3 358.9,309.2"/>
<polygon fill="#0090ff" points="356.8,319.6 389.2,319 389.2,365.6 355.7,364"/>
<polygon fill="#ffcc00" points="169.5,249.5 190.5,249.5 190.5,260 192.6,272.6 199.9,286.2 180,294.5 169.5,295.6"/>
<polygon fill="#99ff66" points="169.5,322.8 180,324.4 235.4,331.1 241.7,269.4 236.5,268.4 215.6,271.5 213.5,275.7 211.4,279.9 195.7,293.5 196.7,303.9 194.6,318.6 186.3,320.7 180,319.6 169.5,320.7"/>
<polygon fill="#60ffa0" points="195.7,293.5 211.4,279.9 232.3,276.7 234.4,279.9 227.1,291.4 215.6,305 200.9,316.5 194.6,318.6 196.7,303.9"/>
<polygon fill="#ffff00" points="169.5,314.8 180,315.4 184.2,318.6 184.2,323.8 169.5,322.8"/>
<polygon fill="#99ff66" points="241.7,269.4 241.7,279.9 249,275.7 253.2,283 260.5,289.3 256.4,294.5 260.5,302.9 263.7,313.3 270,321.7 273.1,331.1 276.2,337.4 293,348.9 302.4,361.5 266.8,359.4 233.3,355.2 235.4,331.1"/>
<polyline fill="none" points="238.6,320.7 243.8,318.6 245.9,309.2 253.2,305 254.3,300.8 260.5,302.9"/>
<polygon fill="#60ffa0" points="261.6,272.6 280.4,269.4 279.4,266.3 297.2,267.5 303.4,278.8 306.6,289.3 305.5,302.9 297.2,305 284.6,300.8 274.1,294.5 267.9,290.3 262.6,284.1 258.5,277.8"/>
<polygon fill="#30ffd0" points="256.4,294.5 260.5,289.3 262.6,284.1 267.9,290.3 274.1,294.5 284.6,300.8 297.2,305 305.5,302.9 303.4,312.3 298.2,317.5 301.3,319.6 293,322.8 287.7,321.7 282.5,326.9 272.1,322.8 270,321.7 263.7,313.3 260.5,302.9"/>
<polygon fill="#30ffd0" points="297.2,267.5 348.4,270.9 334.8,280.9 329.6,291.4 328.5,300.8 323.3,308.1 322.3,315.4 303.4,317.5 298.2,317.5 303.4,312.3 305.5,302.9 306.6,289.3 303.4,278.8"/>
<polygon fill="#00ffff" points="348.4,270.9 358.9,271.5 357.8,292.4 355.7,334.3 355.7,364 330.6,362.5 329.6,345.8 326.4,333.2 320.2,326.9 305.5,326.9 296.1,322.8 301.3,319.6 298.2,317.5 303.4,317.5 322.3,315.4 323.3,308.1 328.5,300.8 329.6,291.4 334.8,280.9"/>
<polyline fill="none" points="328.5,300.8 333.8,298.7 343.2,295.6 347.4,291.4 357.8,292.4"/>
<polyline fill="none" points="322.3,315.4 323.3,318.6 330.6,321.7 339,323.8 347.4,329 355.7,334.3"/>
<polygon fill="#30ffd0" points="270,321.7 272.1,322.8 282.5,326.9 287.7,321.7 293,322.8 296.1,322.8 305.5,326.9 320.2,326.9 326.4,333.2 329.6,345.8 330.6,362.5 302.4,361.5 293,348.9 276.2,337.4 273.1,331.1"/>
<polyline fill="none" points="242.8,263.1 358.9,271.5"/>
<polygon fill="#99ff66" points="220.8,336.4 227.1,332.2 235.4,331.1 233.3,355.2 266.8,359.4 265.8,367.7 243.8,370.9 241.7,377.2 242.8,385.5 235.4,386.6 227.1,392.8 220.8,383.4 219.7,343.7"/>
<polygon fill="#00c0ff" points="241.7,377.2 243.8,370.9 265.8,367.7 264.7,389.7 253.2,392.8 246.9,389.7 242.8,385.5"/>
<polygon fill="#30ffd0" points="227.1,392.8 235.4,386.6 242.8,385.5 246.9,389.7 253.2,392.8 264.7,389.7 259.5,448.3 209.3,448.3 221.8,431.5 233.3,423.2 221.8,417.9 220.8,406.4 223.9,397"/>
<polygon fill="#60ffa0" points="169.5,427.4 180,423.2 190.5,414.8 198.8,398.1 207.2,383.4 220.8,383.4 227.1,392.8 223.9,397 220.8,406.4 221.8,417.9 233.3,423.2 221.8,431.5 209.3,448.3 169.5,448.3"/>
<polygon fill="#99ff66" points="169.5,431.5 180,431.5 188.4,433.6 188.4,448.3 169.5,448.3"/>
<polyline fill="none" points="177.9,324.4 180,324.9 211.4,329 227.1,332.2"/>
<polyline fill="none" points="211.4,329 209.3,343.7 200.9,362.5 207.2,382.4 220.8,383.4"/>
<polyline fill="none" points="180,324.9 177.9,360.4"/>
<polygon fill="#30ffd0" points="266.8,359.4 307.6,362.5 309.7,373 318.1,376.1 323.3,374 324.4,383.4 320.2,393.9 308.7,400.2 307.6,406.4 311.8,415.9 310.8,421.1 303.4,427.4 287.7,433.6 297.2,437.8 301.3,448.3 259.5,448.3 264.7,389.7 265.8,367.7"/>
<polygon fill="#00ffff" points="307.6,362.5 330.6,362.5 355.7,364 389.2,366.1 389.2,412.7 380,410.6 359.9,403.3 334.8,410.6 324.4,414.8 314.9,408.5 316,402.3 308.7,400.2 320.2,393.9 324.4,383.4 323.3,374 318.1,376.1 309.7,373"/>
<polyline fill="none" points="380,370.9 371.4,376.1 368.3,387.6 359.9,403.3"/>
<polygon fill="#00c0ff" points="308.7,400.2 316,402.3 314.9,408.5 324.4,414.8 334.8,410.6 359.9,403.3 380,410.6 389.2,412.7 389.2,448.3 301.3,448.3 297.2,437.8 287.7,433.6 303.4,427.4 310.8,421.1 311.8,415.9 307.6,406.4"/>
<polyline fill="none" points="311.8,421.1 320.2,431.5 324.4,443.1"/>
</g>
<g clip-path="url(#c7)">
<polygon fill="#0090ff" points="467.4,297.4 731.3,297.4 731.3,536.2 467.4,536.2"/>
<polygon fill="#ffffff" points="574.2,297.4 731.3,297.4 731.3,328.8 694.9,328.1 655.9,331.4 644.6,338.1 633.3,322.1 598.1,322.1 579.3,320.1"/>
<polygon fill="#0060ff" points="467.4,297.4 517.7,297.4 517.7,327.1 521.5,335.1 524,350.2 495.1,352 493.6,348.5 487.8,330.4 483.5,329.1 480,326.1 467.4,320.1"/>
<polygon fill="#0090ff" points="517.7,297.4 551.6,297.4 552.9,325.6 517.7,327.1"/>
<polygon fill="#00ffff" points="551.6,297.4 574.2,297.4 579.3,318.8 586.8,322.6 588.1,328.8 557.9,331.4 552.9,330.1 552.9,325.6"/>
<polygon fill="#0020ff" points="517.7,327.1 552.9,325.6 552.9,330.1 556.6,347.7 547.9,350.2 524,350.2 521.5,335.1"/>
<polygon fill="#00c0ff" points="557.9,331.4 588.1,328.8 594.3,333.9 590.6,345.2 580.5,350.2 573,351.5 556.6,347.7 552.9,330.1"/>
<polygon fill="#0020ff" points="495.1,352 521.5,351.5 547.9,350.2 552.9,356.5 552.9,370.3 521.5,372.8 499.6,373.3 497.8,368.1 496.1,355.5"/>
<polyline fill="none" points="521.5,351.5 521.5,372.8"/>
<polygon fill="#0060ff" points="547.9,350.2 556.6,347.7 573,351.5 580.5,350.2 580.5,355.2 583,359 576.8,367.8 575.5,372.8 568,369.1 552.9,370.3 552.9,356.5"/>
<polyline fill="none" points="487.8,330.4 517.7,327.1"/>
<polyline fill="none" points="483.3,308 485.3,313.8 483.3,325.6 487.5,330.1"/>
<polygon fill="#0060ff" points="467.4,320.1 480,326.1 483.5,329.1 487.8,330.4 493.6,348.5 496.1,355.5 497.8,368.1 501.6,376.8 506.6,386.9 467.4,388.4"/>
<polyline fill="none" points="467.4,347.7 493.6,348.5"/>
<polygon fill="#ffffff" points="574.2,297.4 600.6,297.4 598.1,320.6 579.3,318.8"/>
<polygon fill="#ffff00" points="598.1,297.4 633.3,297.4 633.3,318.8 618.2,320.6 598.1,320.6"/>
<polyline fill="none" points="620.7,297.4 618.2,320.6"/>
<polygon fill="#ffffff" points="633.3,297.4 660.9,297.4 659.7,320.1 655.9,328.8 650.9,333.9 644.6,336.4 640.8,335.1 637.1,327.6 633.3,320.1"/>
<polygon fill="#ffffff" points="655.9,328.8 659.7,320.1 660.9,297.4 698.6,297.4 694.9,325.6 672.3,328.1"/>
<polyline fill="none" points="674.8,297.4 676,310 673.5,312.5 674.8,320.1 672.3,328.1"/>
<polygon fill="#ffff00" points="694.9,325.6 698.6,297.4 721.3,297.4 716.2,310 711.2,322.6"/>
<polygon fill="#ffffff" points="711.2,322.6 716.2,310 721.3,297.4 731.3,297.4 731.3,327.6 720,326.3"/>
<polygon fill="#60ffa0" points="588.1,322.6 598.1,320.6 615.7,321.3 615.7,342.7 613.2,350.2 598.1,351.5 580.5,355.2 580.5,350.2 590.6,345.2 594.3,333.9 588.1,328.8 586.8,322.6"/>
<polygon fill="#99ff66" points="615.7,321.3 618.2,320.6 633.3,320.1 637.1,327.6 640.8,335.1 640.8,343.9 625.8,349 617,351.5 613.2,350.2 615.7,342.7"/>
<polygon fill="#0060ff" points="580.5,355.2 598.1,351.5 603.1,367.8 596.9,379.1 588.1,386.6 579.3,387.9 575.5,372.8 576.8,367.8 583,359"/>
<polygon fill="#00c0ff" points="598.1,351.5 613.2,350.2 617,351.5 619.5,356.5 627,365.3 624.5,380.4 619.5,385.4 613.2,380.4 603.1,382.9 596.9,379.1 603.1,367.8"/>
<polygon fill="#00ffff" points="619.5,356.5 617,351.5 625.8,349 640.8,343.9 644.6,361.5 644.6,376.6 627,380.4 627,365.3"/>
<polygon fill="#00c0ff" points="603.1,411.8 620.7,409.3 622,414.3 623.2,428.1 630.8,429.4 630.8,440.7 624.5,445.7 617,433.1 610.7,426.9 600.6,418.1"/>
<polyline fill="none" points="579.3,387.9 588.1,395.4 593.1,404.2 603.1,411.8"/>
<polyline fill="none" points="596.9,379.1 603.1,382.9 613.2,380.4 619.5,385.4 618.2,406.8 620.7,409.3"/>
<polyline fill="none" points="619.5,385.4 624.5,380.4 644.6,376.6 647.1,391.7 645.9,409.3 629.5,410.5 628.3,414.3 622,414.3"/>
<polyline fill="none" points="630.8,440.7 637.1,440.7 643.4,423.1 645.9,409.3"/>
<polygon fill="#60ffa0" points="640.8,335.1 644.6,336.4 650.9,333.9 658.4,332.6 659.7,355.2 652.1,360.3 644.6,361.5 640.8,343.9"/>
<polygon fill="#30ffd0" points="658.4,332.6 672.3,330.1 674.8,356.5 666,359 659.7,355.2"/>
<polygon fill="#60ffa0" points="672.3,330.1 694.9,325.6 711.2,322.6 713.7,346.4 692.4,351.5 678.5,356.5 674.8,356.5"/>
<polyline fill="none" points="688.6,327.6 692.4,351.5"/>
<polygon fill="#30ffd0" points="711.2,322.6 720,326.3 731.3,327.6 731.3,346.4 713.7,346.4"/>
<polygon fill="#00c0ff" points="678.5,356.5 692.4,351.5 713.7,346.4 731.3,346.4 731.3,377.9 716.2,375.3 716.2,369.1 694.9,371.6 694.9,379.1 686.1,380.4 681,372.8"/>
<polyline fill="none" points="713.7,346.4 716.2,369.1"/>
<polyline fill="none" points="692.4,351.5 694.9,371.6"/>
<polyline fill="none" points="644.6,361.5 647.1,391.7"/>
<polyline fill="none" points="659.7,355.2 662.2,385.4 647.1,391.7"/>
<polyline fill="none" points="662.2,385.4 663.5,386.6 666,418.1 650.9,423.1 643.4,425.6 643.4,423.1"/>
<polyline fill="none" points="666,359 674.8,356.5 678.5,356.5 681,372.8 686.1,382.9 679.8,391.7 673.5,385.4 663.5,386.6"/>
<polyline fill="none" points="679.8,391.7 681,408 676,415.5 668.5,420.6 666,418.1"/>
<polyline fill="none" points="686.1,382.9 694.9,379.1 697.4,387.9 693.6,400.5 686.1,408 681,408"/>
<polyline fill="none" points="697.4,387.9 702.4,387.9 717.5,392.9 731.3,396.7"/>
<polyline fill="none" points="694.9,371.6 716.2,369.1"/>
<polygon fill="#0060ff" points="668.5,420.6 676,415.5 681,408 686.1,408 693.6,400.5 697.4,387.9 702.4,387.9 717.5,392.9 731.3,396.7 731.3,443.2 701.2,445.7 673.5,447.7 666,435.7 669.7,428.1"/>
<polyline fill="none" points="686.1,408 693.6,418.1 703.7,429.4 701.2,445.7"/>
<polyline fill="none" points="703.7,429.4 715,415.5 731.3,409.3"/>
<polyline fill="none" points="624.5,445.7 625.8,457 645.9,453.2 673.5,447.7"/>
<polygon fill="#0060ff" points="499.6,373.3 552.9,370.8 568,369.1 575.5,372.8 579.3,387.9 588.1,395.4 593.1,404.2 603.1,411.8 600.6,414.3 590.6,415.5 588.1,421.8 576.8,423.1 568,419.3 565.4,410.5 557.9,404.2 539.1,406.8 522.7,410.5 520.2,406.8 513.9,398 515.2,391.7 506.6,386.9 501.6,376.8"/>
<polyline fill="none" points="552.9,370.8 557.9,404.2"/>
<polyline fill="none" points="522.7,410.5 525.2,439.4 526.5,467.1"/>
<polyline fill="none" points="568,419.3 564.2,428.1 562.9,433.1 549.1,433.1 540.3,435.7 539.1,440.7 525.2,439.4"/>
<polyline fill="none" points="562.9,433.1 566.7,445.7 570.5,463.3"/>
<polyline fill="none" points="608.2,472.1 610.7,464.6 605.7,460.8 599.4,462"/>
<polyline fill="none" points="588.1,421.8 590.6,415.5 600.6,414.3 610.7,426.9 617,433.1 618.2,440.7 604.4,449.5 596.9,453.2 599.4,462 570.5,463.3 526.5,467.1"/>
<polygon fill="#0090ff" points="467.4,371.3 478.5,371.1 479,375.3 486,374.8 486.5,368.6 497.8,368.1 501.6,376.8 506.6,386.9 467.4,388.4"/>
<polyline fill="none" points="467.4,389.2 505.1,387.9 511.4,390.4"/>
<polyline fill="none" points="467.4,408.5 491.3,406.8 505.1,405.5 520.2,406.8"/>
<polyline fill="none" points="467.4,433.1 497.6,433.1 498.8,430.6 524,431.9"/>
<polyline fill="none" points="467.4,458.8 525.2,455.8"/>
<polygon fill="#00ffff" points="467.4,410.5 483,410 483.8,430.6 467.4,431.1"/>
<polygon fill="#0060ff" points="497.6,483.4 510.2,484.7 512.7,478.4 526.5,475.9 526.5,467.1 557.9,465.8 586.8,463.8 599.4,462 605.7,460.8 610.7,464.6 608.2,472.1 617,470.8 619.5,460.8 625.8,457 645.9,453.2 673.5,447.7 701.2,445.7 731.3,443.2 731.3,536.2 467.4,536.2 467.4,508.5 493.8,506 497.6,493.5"/>
<polyline fill="none" points="487.5,470.8 497.6,483.4"/>
<polyline fill="none" points="526.5,475.9 530.3,485.9 530.3,496 520.2,497.2 507.6,503.5 506.4,511 493.8,506"/>
<polyline fill="none" points="467.4,470.8 487.5,470.8"/>
<polyline fill="none" points="557.9,465.8 556.6,483.4 530.3,485.9"/>
<polyline fill="none" points="586.8,463.8 585.5,475.9 576.8,477.1 576.8,490.9 566.7,492.2 556.6,483.4"/>
<polyline fill="none" points="617,470.8 613.2,485.9 609.4,496 588.1,489.7 576.8,490.9"/>
<polyline fill="none" points="566.7,492.2 560.4,497.2 552.9,511 541.6,508.5 540.3,518.6 531.5,521.1 530.3,496"/>
<polyline fill="none" points="560.4,497.2 574.2,499.7 575.5,508.5 588.1,518.6 595.6,523.6 605.7,508.5 609.4,496"/>
<polyline fill="none" points="531.5,521.1 532.8,536.2"/>
<polygon fill="#0020ff" points="551.6,518.6 573,513.6 575.5,508.5 588.1,518.6 595.6,523.6 593.1,536.2 550.4,536.2"/>
<polyline fill="none" points="645.9,453.2 645.9,473.4 644.6,489.7 613.2,494.7"/>
<polyline fill="none" points="701.2,445.7 693.6,453.2 686.1,460.8 683.6,475.9 682.3,485.9 644.6,489.7"/>
<polyline fill="none" points="731.3,480.9 698.6,483.4 682.3,485.9"/>
<polyline fill="none" points="619.5,460.8 617,470.8 613.2,485.9 609.4,496 605.7,508.5 595.6,523.6 594.3,536.2"/>
<polygon fill="#0020ff" points="611.2,495 632.3,493.7 630.8,503.5 629.8,515.1 633.5,523.6 633.8,536.2 616.2,536.2 616.2,524.9 617.5,517.6 611.2,507.5"/>
<polyline fill="none" points="632,493.5 650.9,490.9 682.3,485.9"/>
<polyline fill="none" points="650.9,490.9 652.1,506 653.4,536.2"/>
<polyline fill="none" points="632,514.8 652.1,506 684.8,504.8"/>
<polyline fill="none" points="682.3,485.9 684.8,504.8 686.1,536.2"/>
<polygon fill="#0020ff" points="701.2,496 711.2,536.2 681,536.2 673.5,523.6 678.5,516.1 688.6,511"/>
<polyline fill="none" points="698.6,483.4 701.2,496 688.6,511"/>
<polyline fill="none" points="731.3,508.5 717.5,507.3 711.2,536.2"/>
<polyline fill="none" points="610.7,496 613.2,494.7"/>
</g>
<g clip-path="url(#c8)">
<polygon fill="#0090ff" points="707.4,297.4 880.8,297.4 880.8,310 878.3,320.1 877.1,335.1 870.8,354 868.3,347.7 860.7,343.9 857,347.7 865.8,357.7 870.8,364 868.3,377.9 864.5,398 862,395.4 863.2,382.9 859.5,377.9 857,369.1 853.2,360.3 850.7,367.8 857,376.6 859.5,392.9 855.7,403 864.5,405.5 870.8,418.1 878.3,426.9 875.8,428.1 874.6,435.7 870.8,439.4 869.5,449.5 863.2,455.8 853.2,460.8 845.7,473.4 844.4,482.1 830.6,488.4 824.3,501 816.8,513.6 806.7,523.6 800.4,536.2 707.4,536.2"/>
<polygon fill="#30ffd0" points="707.4,297.4 755.2,297.4 759,310 764,327.6 762.7,332.6 761.5,330.1 745.1,335.1 743.9,330.1 737.6,332.6 736.3,326.3 707.4,329.6"/>
<polygon fill="#00ffff" points="726.3,337.6 743.9,335.1 745.1,335.1 761.5,330.1 764,340.2 765.2,351.5 745.1,351.5 730.1,354"/>
<polyline fill="none" points="743.9,335.1 745.1,351.5"/>
<polygon fill="#00c0ff" points="707.4,347.7 727.5,346.4 730.1,354 745.1,351.5 765.2,351.5 767.7,359 764,364 759,380.4 750.2,379.1 741.4,380.4 731.3,377.9 732.6,370.3 738.8,362.8 735.1,356.5 707.4,358.3"/>
<polyline fill="none" points="707.4,376.6 722.5,375.3 731.3,377.9"/>
<polyline fill="none" points="741.4,380.4 743.9,387.9 738.8,396.7 731.3,391.7 707.4,395.9"/>
<polyline fill="none" points="741.4,380.4 745.1,384.1 741.4,396.7"/>
<polygon fill="#60ffa0" points="759,297.4 880.8,297.4 880.8,320.1 878.3,316.3 870.8,317.5 865.8,326.3 855.7,337.6 850.7,341.4 838.1,342.7 828.1,333.9 816.8,338.9 811.7,333.9 814.2,328.8 795.4,331.4 790.4,328.8 770.3,325.1 764,327.6 759,310"/>
<polygon fill="#99ff66" points="820.5,297.4 831.8,297.4 835.6,318.8 830.6,326.3 828.1,333.9 816.8,338.9 811.7,333.9 814.2,328.8 820.5,321.3 816.8,315"/>
<polygon fill="#ffff00" points="833.1,297.4 855.7,297.4 855.7,316.3 843.1,321.3 835.6,318.8 833.1,310"/>
<polyline fill="none" points="786.6,297.4 786.6,317.5 792.9,322.6 790.4,328.8"/>
<polyline fill="none" points="786.6,312.5 808,310 816.8,315"/>
<polyline fill="none" points="835.6,318.8 843.1,321.3 855.7,316.3 865.8,326.3"/>
<polygon fill="#00c0ff" points="764,327.6 770.3,325.1 790.4,328.8 795.4,331.4 792.9,341.4 799.2,343.9 800.4,351.5 770.3,359 767.7,359 765.2,351.5 764,340.2"/>
<polygon fill="#00ffff" points="795.4,331.4 811.7,328.8 814.2,337.6 813,347.7 800.4,351.5 799.2,343.9 792.9,341.4"/>
<polygon fill="#30ffd0" points="814.2,337.6 816.8,338.9 828.1,333.9 838.1,342.7 821.8,349 813,347.7"/>
<polygon fill="#60ffa0" points="865.8,326.3 870.8,317.5 878.3,316.3 880.8,320.1 879.6,335.1 870.8,354 868.3,347.7 860.7,343.9 857,342.7 855.7,337.6"/>
<polyline fill="none" points="875.8,317.5 877.1,335.1 872,350.2"/>
<polygon fill="#60ffa0" points="821.8,349 838.1,342.7 850.7,341.4 853.2,347.7 845.7,354 840.6,356.5 833.1,362.8 825.5,357.7"/>
<polygon fill="#00ffff" points="845.7,354 853.2,347.7 857,365.3 850.7,367.8 846.9,360.3"/>
<polygon fill="#00c0ff" points="857,347.7 860.7,343.9 865.8,357.7 870.8,364 869.5,369.1 868.3,377.9 864.5,398 862,395.4 863.2,382.9 859.5,377.9 857,369.1 855.7,355.2"/>
<polyline fill="none" points="858.2,369.1 869.5,369.1"/>
<polygon fill="#ffffff" points="844.4,351.5 848.2,355.2 851.2,364 857.5,370.3 861.2,379.1 862.2,395.4 864.8,398.5 865.8,406 855.7,403.5 857.2,394.2 855.7,385.4 851.9,375.3 845.7,367.8 843.1,357.7"/>
<polygon fill="#0060ff" points="781.6,357.7 787.9,356.5 789.1,364 795.4,366.5 792.9,380.4 795.4,382.9 800.4,375.3 806.7,377.9 808,385.4 797.9,401.7 785.3,418.1 782.8,415.5 765.2,420.6 757.7,419.3 753.9,415.5 760.2,406.8 771.5,387.9 779.1,379.1 784.1,367.8"/>
<polyline fill="none" points="759,380.4 764,382.9 771.5,387.9"/>
<polyline fill="none" points="764,364 781.6,357.7 770.3,359"/>
<polyline fill="none" points="787.9,356.5 801.7,352.7 813,351.5 819.3,356.5 808,361.5 806.7,371.6 800.4,375.3"/>
<polyline fill="none" points="782.8,392.9 774,405.5 765.2,413 760.2,406.8"/>
<polyline fill="none" points="782.8,392.9 792.9,380.4"/>
<polyline fill="none" points="782.8,396.7 785.3,406.8 782.8,415.5"/>
<polyline fill="none" points="741.4,396.7 747.6,406.8 753.9,415.5"/>
<polygon fill="#00ffff" points="806.7,371.6 808,361.5 819.3,356.5 825.5,362.8 833.1,362.8 835.6,369.1 828.1,375.3 820.5,385.4 811.7,385.4 806.7,377.9"/>
<polygon fill="#00c0ff" points="815.5,387.9 820.5,385.4 828.1,375.3 830.6,380.4 836.9,385.4 836.9,403 831.8,420.6 815.5,423.1 815.5,413 806.7,405.5"/>
<polyline fill="none" points="808,385.4 811.7,385.4 815.5,387.9 806.7,405.5 815.5,413 815.5,423.1"/>
<polyline fill="none" points="828.1,375.3 835.6,369.1 845.7,377.9 855.7,385.4"/>
<polygon fill="#0060ff" points="727.5,440.7 753.9,415.5 757.7,419.3 765.2,420.6 782.8,415.5 785.3,418.1 781.6,431.9"/>
<polygon fill="#0060ff" points="707.4,395.9 731.3,391.7 738.8,396.7 747.6,406.8 753.9,415.5 727.5,440.7 707.4,443.2"/>
<polygon fill="#0060ff" points="707.4,442.7 727.5,440.7 761.5,436.9 759,447 767.7,458.3 769,464.6 747.6,470.8 707.4,483.4"/>
<polygon fill="#00c0ff" points="781.6,431.9 815.5,423.1 831.8,420.6 867,413 875.8,428.1 874.6,435.7 870.8,439.4 869.5,449.5 863.2,455.8 855.7,458.3 838.1,453.2 823,448.2 829.3,438.2 819.3,435.7 816.8,440.7 802.9,441.9 785.3,443.2"/>
<polyline fill="none" points="830.6,421.8 829.3,438.2"/>
<polyline fill="none" points="761.5,436.9 781.6,431.9 785.3,443.2 771.5,445.7 770.3,457 767.7,458.3"/>
<polyline fill="none" points="823,448.2 814.2,452 809.2,467.1 790.4,469.6 781.6,464.6 769,464.6"/>
<polyline fill="none" points="809.2,467.1 831.8,483.4 830.6,488.4"/>
<polyline fill="none" points="769,464.6 775.3,468.3 776.5,482.1 769,485.9 761.5,487.2 753.9,490.9 745.1,483.4"/>
<polyline fill="none" points="776.5,482.1 777.8,483.4 786.6,485.9 795.4,480.9 800.4,485.9 808,497.2 824.3,501"/>
<polyline fill="none" points="707.4,483.4 747.6,470.8"/>
<polygon fill="#0060ff" points="707.4,483.4 735.1,483.4 745.1,483.4 753.9,490.9 767.7,503.5 777.8,511 792.9,536.2 707.4,536.2"/>
<polygon fill="#0060ff" points="777.8,483.4 786.6,485.9 795.4,480.9 800.4,485.9 808,497.2 802.9,506 795.4,508.5 782.8,501 781.6,496"/>
<polyline fill="none" points="753.9,490.9 764,502.3 776.5,511 781.6,496"/>
<polyline fill="none" points="782.8,501 777.8,511"/>
<polyline fill="none" points="735.1,483.4 745.1,503.5 732.6,508.5 707.4,511.5"/>
<polyline fill="none" points="745.1,503.5 757.7,508.5 765.2,536.2"/>
<polyline fill="none" points="802.9,506 795.4,508.5"/>
</g>
<g clip-path="url(#c9)">
<polygon fill="#0090ff" points="692.7,282.7 846.3,282.7 846.3,421.7 692.7,421.7"/>
<polygon fill="#ffffff" points="711,323.6 720.5,327.3 726.3,326.6 735.1,324.4 743.9,319.3 751.2,314.9 758.5,309.7 764.4,304.6 770.2,301 777.5,292.9 781.9,282.7 721.9,282.7 721.9,300.2 717.6,301.7 716.1,310.5 713.2,317.8"/>
<polygon fill="#ffff00" points="692.7,282.7 721.9,282.7 721.9,300.2 717.6,301.7 716.1,310.5 713.2,317.8 711,323.6 692.7,326.6"/>
<polygon fill="#ffffff" points="770.2,301 777.5,292.9 781.9,282.7 828.7,282.7 825.8,294.4 808.3,298.8 771.7,304.6"/>
<polygon fill="#ffff00" points="828.7,282.7 846.3,282.7 846.3,290 825.8,294.4"/>
<polyline fill="none" points="781.2,293.7 783.1,302.4"/>
<polygon fill="#ffff00" points="808.3,298.8 846.3,290 846.3,316.3 837.5,316.3 835.3,310.5 834.6,306.1 830.2,309 824.3,305.4 820,307.6 811.2,308.3"/>
<polyline fill="none" points="834.6,306.1 840,304.6"/>
<polygon fill="#60ffa0" points="758.5,309.7 764.4,304.6 770.2,301 771.7,304.6 808.3,298.8 811.2,308.3 815.6,314.1 820,317.8 817,325.1 812.6,328.8 793.6,330.2 792.9,328.8 781.9,326.6 776.1,325.1 770.2,325.8 762.9,327.3 761.4,325.8"/>
<polyline fill="none" points="811.2,308.3 802.4,310.5 793.6,310.5 787.8,311.9 786.3,317.8 791.4,319.3 792.9,328.8"/>
<polygon fill="#99ff66" points="811.2,308.3 820,307.6 824.3,305.4 830.2,309 834.6,306.1 835.3,310.5 837.5,316.3 833.1,319.3 830.2,325.1 832.4,327.3 828.7,333.9 824.3,336.1 815.6,339 811.2,333.9 812.6,328.8 817,325.1 820,317.8 815.6,314.1"/>
<polygon fill="#60ffa0" points="830.2,325.1 833.1,319.3 837.5,316.3 846.3,316.3 846.3,344.1 840,340.5 828.7,333.9 832.4,327.3"/>
<polyline fill="none" points="832.4,327.3 834.6,326.6 846.3,326.6"/>
<polygon fill="#30ffd0" points="815.6,339 824.3,336.1 828.7,333.9 840,340.5 846.3,344.1 846.3,343 813.4,349.2 814.1,344.1"/>
<polygon fill="#00c0ff" points="762.9,327.3 770.2,325.8 776.1,325.1 781.9,326.6 792.9,328.8 793.6,330.2 795.1,333.9 792.2,341.9 798,343.4 800.9,352.9 770.2,358.8 765.1,344.1"/>
<polygon fill="#00ffff" points="793.6,330.2 812.6,328.8 811.2,333.9 815.6,339 814.1,344.1 813.4,349.2 800.9,352.9 798,343.4 792.2,341.9 795.1,333.9"/>
<polygon fill="#30ffd0" points="711,323.6 720.5,327.3 726.3,326.6 735.1,324.4 743.9,319.3 751.2,314.9 758.5,309.7 761.4,325.8 762.9,327.3 755.6,328.8 752.7,332.4 745.4,335.4 743.9,336.1 735.1,335.4 730.7,336.1 726.3,339 727.1,344.1 714.6,347.1 713.2,333.9"/>
<polyline fill="none" points="735.1,324.4 738,329.5 735.1,335.4"/>
<polygon fill="#60ffa0" points="692.7,326.6 711,323.6 713.2,333.9 714.6,347.1 705.9,346.3 705.1,350 692.7,351.1"/>
<polygon fill="#00ffff" points="726.3,339 730.7,336.1 735.1,335.4 743.9,336.1 745.4,335.4 752.7,332.4 755.6,328.8 762.9,327.3 765.1,344.1 764.4,350 745.4,352.9 728.5,354.4 727.1,344.1"/>
<polyline fill="none" points="743.9,336.1 745.4,352.9"/>
<polygon fill="#00c0ff" points="692.7,351.1 705.1,350 705.9,346.3 714.6,347.1 727.1,344.1 728.5,354.4 736.6,355.1 745.4,352.9 764.4,350 765.1,344.1 770.2,358.8 765.8,366.1 761.4,369.7 751.2,376.3 749.7,379.2 751.2,382.2 745.4,383.6 743.9,395.3 738,395.3 718.3,392.4 717.6,386.6 721.9,383.6 720.5,374.8 716.1,377.8 715.4,369.7 692.7,369"/>
<polyline fill="none" points="714.6,347.1 715.4,369.7"/>
<polyline fill="none" points="736.6,355.1 737.3,361 733.6,362.4 735.8,367.5 730.7,373.4 731.5,374.8 720.5,374.8"/>
<polyline fill="none" points="731.5,374.8 739.5,380 749.7,379.2"/>
<polygon fill="#0060ff" points="692.7,386.6 700,387.3 708.8,390.9 716.1,390.9 718.3,392.4 738,395.3 741,399.7 748.3,407 752.7,414.3 751.2,421.7 692.7,421.7"/>
<polyline fill="none" points="718.3,392.4 722.7,402.6 717.6,411.4 713.2,418.7"/>
<polyline fill="none" points="716.1,390.9 717.6,386.6"/>
<polygon fill="#0060ff" points="781.9,358 787,357.3 788.5,366.1 795.1,364.6 793.6,374.8 800.9,374.8 803.9,374.1 808.3,377.8 809,383.6 802.4,395.3 793.6,405.6 786.3,412.9 783.4,411.4 779,421.7 755.6,421.7 760,407 761.4,402.6 764.4,392.4 768.8,388 774.6,383.6 779,379.2 784.8,371.9 783.4,366.1"/>
<polyline fill="none" points="793.6,374.8 790.7,383.6 786.3,390.9 779,398.3 768.8,407 764.4,412.9 760,407"/>
<polyline fill="none" points="786.3,390.9 787.8,390.9 786.3,398.3 783.4,411.4"/>
<polyline fill="none" points="770.2,358.8 781.9,358"/>
<polyline fill="none" points="743.9,395.3 745.4,383.6 751.2,382.2 759.2,382.2 768.8,388"/>
<polyline fill="none" points="759.2,382.2 759.2,377.8 761.4,369.7"/>
<polyline fill="none" points="754.1,414.3 761.4,402.6"/>
<polygon fill="#00c0ff" points="787,357.3 796.6,355.8 800.9,352.9 813.4,349.2 818.5,351.4 821.4,354.4 818.5,360.2 809.7,358.8 806.8,366.1 803.9,374.1 800.9,374.8 793.6,374.8 795.1,364.6 788.5,366.1"/>
<polygon fill="#00ffff" points="796.6,355.8 800.9,352.9 813.4,349.2 805.3,355.8 800.9,355.8 797.3,358.8"/>
<polygon fill="#00ffff" points="809.7,358.8 818.5,360.2 825.1,358.8 833.1,364.6 834.6,370.5 828.7,376.3 824.3,379.2 821.4,386.6 814.1,385.8 809,383.6 808.3,377.8 803.9,374.1 806.8,366.1"/>
<polygon fill="#30ffd0" points="813.4,349.2 846.3,342.7 846.3,358.8 836.1,361.7 833.1,364.6 825.1,358.8 822.9,351.4 818.5,351.4"/>
<polygon fill="#00c0ff" points="814.1,385.8 821.4,386.6 824.3,379.2 828.7,376.3 834.6,380.7 837.5,386.6 835.3,395.3 836.1,407 833.1,421.7 817,421.7 815.6,412.9 811.2,408.5 808.3,402.6 811.2,398.3 815.6,390.9"/>
<polyline fill="none" points="809,383.6 814.1,385.8"/>
<polyline fill="none" points="828.7,376.3 834.6,370.5 846.3,374.1"/>
<polyline fill="none" points="808.3,402.6 802.4,395.3"/>
</g>
<g clip-path="url(#c10)">
<polygon fill="#ffffff" points="805.3,295.3 903.8,295.3 903.8,384.4 805.3,384.4"/>
<polygon fill="#ffff00" points="805.3,295.3 858.8,295.3 858.8,300.9 855.9,312.2 855,312.2 851.2,313.1 847.5,315 844.7,311.2 838.1,315.9 835.3,316.9 833,310.3 826.9,309.4 822.2,305.6 811.9,309.4 805.3,308"/>
<polygon fill="#ffcc00" points="862.5,295.3 881.2,295.3 879.4,302.8 877.5,306.6 875.6,303.8 874.7,300.9"/>
<polygon fill="#ffffff" points="879.4,302.8 877.5,306.6 875.6,310.3 872.8,316.4 875.6,315 883.1,310.5 891.9,304.7 900.8,298.9 900,295.3 885,295.3"/>
<polygon fill="#ffffff" points="858.8,300.9 874.7,304.7 873.8,310.3 872.3,316.9 870,317.8 866.2,322.5 861.6,321.6 857.8,317.8 855.9,312.2"/>
<polygon fill="#60ffa0" points="805.3,310.3 811.9,309.4 815.6,315 819.4,319.7 811.9,332.8 810,329.1 805.3,328.1"/>
<polygon fill="#99ff66" points="811.9,309.4 822.2,305.6 826.9,309.4 833,310.3 835.3,316.9 831.6,321.6 829.7,325.3 832.5,328.1 828.8,332.8 822.2,336.6 816.6,338.4 811.9,332.8 819.4,319.7 815.6,315"/>
<polygon fill="#99ff66" points="835.3,316.9 838.1,315.9 844.7,311.2 847.5,315 851.2,313.1 855,312.2 855.9,312.2 855.9,317.8 857.8,319.7 851.2,325.3 842.8,322.5 832.5,328.1 829.7,325.3 831.6,321.6"/>
<polygon fill="#60ffa0" points="828.8,332.8 832.5,328.1 842.8,322.5 851.2,325.3 857.8,319.7 861.6,321.6 866.2,322.5 865.3,325.3 866.2,327.2 860.6,334.7 855.9,336.6 852.2,338.4 851.2,341.2 840.9,342.7 837.2,340.3"/>
<polygon fill="#60ffa0" points="870,317.8 875.6,316.9 878.4,317.8 879.4,328.1 877.5,337.5 874.7,344.1 870.9,354.4 869.5,353.4 870,347.8 865.3,348.8 860.6,346.9 856.9,342.2 856.9,339.4 860.6,334.7 866.2,327.2 865.3,325.3 866.2,322.5"/>
<polyline fill="none" points="876.1,317.3 877,327.2 875.6,336.6 872.3,345 870.9,352.5"/>
<polygon fill="#00ffff" points="805.3,329.1 810,329.1 811.9,332.8 816.6,338.4 813.8,341.2 812.8,349.2 805.3,351.1"/>
<polygon fill="#30ffd0" points="813.8,341.2 816.6,338.4 822.2,336.6 828.8,332.8 837.2,340.3 840.9,342.7 812.8,349.2"/>
<polygon fill="#30ffd0" points="812.8,349.2 840.9,342.7 851.2,341.2 849.4,345 845.6,347.8 842.8,352.5 840.9,356.2 837.2,358.1 833.4,362.8 828.8,361.9 825,360 822.2,357.2 821.7,351.1"/>
<polygon fill="#00ffff" points="805.3,351.1 812.8,349.2 821.7,351.1 822.2,357.2 820.3,358.1 819.4,358.1 815.6,354.4 805.3,352.5"/>
<polygon fill="#00c0ff" points="805.3,352.5 815.6,354.4 819.4,358.1 819.4,361.9 805.3,358.6"/>
<polygon fill="#30ffd0" points="852.2,338.4 855.9,337.5 855,341.2 856.9,346.9 855,349.7 853.1,344.1 851.7,341.2"/>
<polygon fill="#00c0ff" points="855,349.7 856.9,346.9 859.7,347.8 862.5,352.5 866.2,358.1 870,360.9 871.4,364.7 859.7,367.5 855.9,354.4"/>
<polygon fill="#00ffff" points="847.5,350.6 853.1,349.7 854.1,355.3 852.7,359.1 849.4,360.9 848.4,356.2 847,353.4"/>
<polygon fill="#00c0ff" points="854.1,355.3 855.9,354.4 859.7,367.5 857.8,372.2 854.1,373.1 851.2,370.3 852.2,365.6 850.3,362.8 852.7,359.1"/>
<polygon fill="#00c0ff" points="859.7,367.5 871.4,364.7 870,369.4 868.1,376.9 866.2,384.4 862.5,384.4 862.5,378.8 858.8,374.1 857.8,372.2"/>
<polygon fill="#00ffff" points="805.3,358.6 819.4,361.9 820.3,358.1 825,360 828.8,361.9 833.4,362.8 835.3,365.6 834.8,369.4 832.5,373.1 827.8,375 824.1,384.4 805.3,384.4"/>
<polygon fill="#00ffff" points="840.9,356.2 842.8,358.1 843.8,365.6 847.5,372.2 845.6,371.2 840.9,369.4 837.2,370.3 835.3,365.6 833.4,362.8 837.2,358.1"/>
<polygon fill="#00c0ff" points="832.5,373.1 834.8,369.4 837.2,370.3 840.9,369.4 845.6,371.2 849.4,377.8 845.6,378.8 838.1,375 835.3,377.8 831.6,376.9"/>
<polygon fill="#0090ff" points="827.8,375 832.5,373.1 831.6,376.9 835.3,377.8 838.1,375 845.6,378.8 849.4,377.8 851.2,384.4 824.1,384.4"/>
</g>
<g clip-path="url(#c11)">
<polygon fill="#ffffff" points="86.7,497.4 86.7,510 90.5,520.1 90.5,527.6 93,531.4 144.5,535.1 138.2,536.4 137,540.2 163.4,554 206.1,576.6 251.3,581.6 251.3,497.4"/>
<polyline fill="none" points="103,497.4 103,510 106.8,532.6"/>
<polyline fill="none" points="148.3,497.4 148.3,510 142,520.1 144.5,528.8 144.5,535.1"/>
<polyline fill="none" points="169.6,497.4 169.6,510 163.4,554"/>
<polygon fill="#60ffa0" points="164.6,543.9 198.5,549 219.9,550.2 221.2,533.9 231.2,527.6 240,526.3 251.3,525.6 251.3,581.6 206.1,576.6 163.4,554"/>
<polygon fill="#99ff66" points="170.9,497.4 170.9,511.3 188.5,515 203.6,513.8 208.6,522.6 214.9,537.6 221.2,533.9 231.2,527.6 232.5,518.8 221.2,517.5 218.6,510 218.6,497.4"/>
<polygon fill="#60ffa0" points="218.6,497.4 251.3,497.4 251.3,525.6 240,526.3 231.2,527.6 232.5,518.8 221.2,517.5 218.6,510"/>
<polyline fill="none" points="170.9,511.3 164.6,543.9"/>
</g>
<g clip-path="url(#c12)">
<polygon fill="#60ffa0" points="227.4,497.4 251.3,497.4 246.3,580.4 240,580.9 227.4,580.4"/>
<polygon fill="#30ffd0" points="295.3,570.3 379.5,573.3 380.2,596.7 390.8,605.5 390.8,624.3 378.2,624.3 370.7,628.1 361.9,643.2 350.6,638.2 338,630.6 331.7,620.6 328,606.8 315.4,595.4 302.8,582.9"/>
<polygon fill="#00c0ff" points="380.7,582.9 399.6,582.9 400.8,574.1 419.7,574.1 419.7,584.1 441,585.4 453.6,589.2 459.9,586.6 466.2,598 462.4,605.5 456.1,620.6 446.1,628.1 437.3,629.4 436,640.7 413.4,641.9 405.9,635.7 395.8,625.6 390.8,624.3 390.8,605.5 380.2,596.7"/>
<polygon fill="#0060ff" points="368.2,497.4 405.9,497.4 404.6,542.7 395.8,543.9 395.8,551.5 392,554 393.3,562.8 400.8,564 400.8,574.1 399.6,582.9 380.7,582.9 379.5,573.3 365.7,572.8"/>
<polygon fill="#0090ff" points="405.9,497.4 426,497.4 426,510 436,517.5 453.6,525.1 454.9,531.4 444.8,532.6 444.8,541.4 436,542.7 432.3,551.5 432.3,571.6 439.8,572.8 441,585.4 419.7,584.1 419.7,574.1 400.8,574.1 400.8,564 393.3,562.8 392,554 395.8,551.5 395.8,543.9 404.6,542.7"/>
<polygon fill="#0090ff" points="426,497.4 461.2,497.4 462.4,523.8 453.6,525.1 436,517.5 426,510"/>
<polygon fill="#0060ff" points="453.6,525.1 462.4,523.8 461.2,497.4 491.3,497.4 491.3,608 466.2,606.8 462.4,605.5 466.2,598 459.9,586.6 453.6,589.2 441,585.4 439.8,572.8 432.3,571.6 432.3,551.5 436,542.7 444.8,541.4 444.8,532.6 454.9,531.4"/>
<polyline fill="none" points="462.4,523.8 480,530.1 491.3,531.4"/>
<polygon fill="#0060ff" points="437.3,629.4 446.1,628.1 456.1,620.6 462.4,605.5 466.2,606.8 491.3,608 491.3,670.8 477.5,683.4 464.9,685.9 463.7,675.9 467.4,668.3 466.2,658.3 461.2,647 448.6,638.2 447.3,641.9 436,640.7"/>
<polygon fill="#0090ff" points="413.4,641.9 436,640.7 447.3,641.9 448.6,638.2 461.2,647 466.2,658.3 467.4,668.3 463.7,675.9 464.9,685.9 477.5,683.4 491.3,685.9 491.3,721.1 480,717.3 461.2,711 446.1,703.5 438.5,690.9 437.3,683.4 431,673.4 420.9,658.3"/>
<polyline fill="none" points="454.9,707.3 458.6,697.2 466.2,697.2 466.2,699.7 480,701 491.3,702.3"/>
<polygon fill="#00ffff" points="325.4,497.4 345.5,497.4 350.6,530.1 355.6,536.4 365.7,538.1 365.7,572.8 329.2,571.6 322.9,557.7 322.9,542.7 325.4,525.1"/>
<polygon fill="#0060ff" points="345.5,497.4 368.2,497.4 365.7,538.1 355.6,536.4 350.6,530.1"/>
</g>
<g clip-path="url(#c13)">
<polygon fill="#60ffa0" points="232.7,462.7 257.6,462.7 254.6,505.1 251,537.3 246.6,581.2 232.7,580.4"/>
<polyline fill="none" points="240,526.3 245.9,524.1 251,524.9"/>
<polygon fill="#60ffa0" points="254.6,505.1 268.5,505.8 267.8,493.4 270.7,486.8 278,485.4 290.5,487.6 294.1,488.3 304.4,490.5 308.8,491.9 308.8,493.4 302.9,494.9 302.9,512.4 297.8,519.7 303.6,521.2 304.4,535.1 311.7,524.9 313.1,560.7 319,562.2 324.1,557.8 330,570.9 294.9,569.9 295.6,574.2 264.9,573.1 263.4,582.6 246.6,581.2 251,537.3"/>
<polygon fill="#30ffd0" points="257.6,462.7 295.6,462.7 294.1,472.2 288.3,475.9 283.2,480.2 278,484.6 270.7,486.8 267.8,493.4 268.5,505.8 254.6,505.1"/>
<polygon fill="#00c0ff" points="295.6,462.7 342.4,462.7 338,474.4 339.5,481.7 337.3,489 331.4,491.2 327.8,493.4 321.9,492.7 314.6,493.4 308.8,491.9 304.4,490.5 294.1,488.3 290.5,487.6 278,485.4 283.2,480.2 288.3,475.9 294.1,472.2"/>
<polygon fill="#0060ff" points="342.4,462.7 369.5,462.7 367.3,538 356.3,538 352.6,534.4 349.7,525.6 349,512.4 345.3,511.7 346.1,504.4 336.6,492.7 331.4,491.2 337.3,489 339.5,481.7 338,474.4"/>
<polyline fill="none" points="342.4,470 344.6,472.9 346.8,477.3 349,473.7 351.2,470"/>
<polygon fill="#00ffff" points="326.3,494.9 327.8,493.4 331.4,491.2 336.6,492.7 346.1,504.4 345.3,511.7 349,512.4 349.7,525.6 352.6,534.4 356.3,538 367.3,538 365.8,572.4 330,570.9 324.1,557.8 321.2,525.6 327.8,505.1"/>
<polygon fill="#30ffd0" points="302.9,494.9 308.8,493.4 321.9,494.1 326.3,494.9 327.8,505.1 321.2,525.6 324.1,557.8 319,562.2 313.1,560.7 311.7,524.9 304.4,535.1 303.6,521.2 297.8,519.7 302.9,512.4"/>
<polyline fill="none" points="290.5,487.6 291.2,495.6 283.9,500.7 285.4,508 283.2,512.4 286.1,518.3 286.8,525.6 283.9,531.4 277.3,538 276.6,541.7 286.8,541.7 287.5,538.8"/>
<polyline fill="none" points="254.6,535.8 255.4,527.8 257.6,528.5 256.1,534.4 259,540.2 263.4,547.5 269.3,553.4 271.5,550.5 274.4,554.1 275.1,546.1 276.6,541.7"/>
<polyline fill="none" points="286.8,541.7 287.5,551.9 292.7,554.1 296.3,559.2 298.5,565.1 300,560.7 299.2,543.1 300.7,537.3 304.4,535.1"/>
<polygon fill="#30ffd0" points="295.6,574.2 294.9,570.2 330,571.4 365.8,572.8 386.3,573.1 386.3,601.7 319,601.7 308.8,585.6 302.9,581.2 300,575.3"/>
<polygon fill="#0060ff" points="369.5,462.7 386.3,462.7 386.3,573.1 365.8,572.8 367.3,538"/>
</g>
<g clip-path="url(#c14)">
<polygon fill="#0020ff" points="467.4,497.4 731.3,497.4 731.3,605.5 720,600.5 713.7,595.4 706.2,591.7 693.6,590.4 681,592.9 669.7,598 666,590.4 664.7,596.7 655.9,598 643.4,600.5 635.8,604.2 630.8,610.5 639.6,610.5 634.6,619.3 640.8,621.8 648.4,628.1 643.4,630.6 635.8,625.6 628.3,623.1 624.5,628.1 617,629.4 610.7,631.9 603.1,629.4 600.1,623.8 595.6,623.1 588.1,622.1 584.3,624.6 578,625.1 568,622.6 557.9,621.3 550.4,623.1 542.8,625.9 532.8,630.9 525.2,636.4 522.7,642.7 512.7,649 502.6,654 492.6,658.5 486.3,665.3 482.5,671.6 480,680.4 467.4,683.4"/>
<polygon fill="#0060ff" points="467.4,497.4 505.1,497.4 503.9,527.6 515.2,527.6 513.9,540.2 505.1,542.7 502.6,560.3 496.3,564 502.6,570.3 495.1,576.6 500.1,584.1 490.1,594.2 491.3,598 503.9,610.5 507.6,620.6 506.4,625.6 485,648.2 482.5,658.3 482.5,668.3 480,680.9 467.4,683.4"/>
<polyline fill="none" points="467.4,606.8 480,606.8 491.3,598"/>
<polygon fill="#0060ff" points="507.6,620.6 508.9,614.3 524,609.3 529,605.5 534,613 542.8,610.5 551.6,609.3 551.6,621.8 545.3,624.3 534,629.4 525.2,638.2 515.2,647 502.6,653.2 490.1,658.3 482.5,668.3 482.5,658.3 485,648.2 506.4,625.6"/>
<polygon fill="#ffffff" points="529,623.1 532.8,624.3 531.5,629.4 527.7,630.6 526.5,626.9"/>
<polygon fill="#0090ff" points="467.4,706 480,707.3 485,713.6 480,718.6 467.4,719.8"/>
<polygon fill="#0060ff" points="505.1,497.4 550.4,497.4 551.6,517.5 552.9,545.2 541.6,547.7 541.6,535.1 532.8,533.9 515.2,527.6 503.9,527.6"/>
<polyline fill="none" points="531.5,497.4 531.5,510 532.8,533.9"/>
<polygon fill="#0060ff" points="550.4,497.4 575.5,497.4 575.5,512.5 574.2,521.3 551.6,517.5"/>
<polygon fill="#0060ff" points="580.5,497.4 598.1,497.4 595.6,510 596.9,522.6 590.6,520.1 580.5,512.5"/>
<polygon fill="#0060ff" points="599.4,497.4 617,497.4 617,510 615.7,526.3 604.4,521.3 599.4,520.1"/>
<polygon fill="#0060ff" points="633.3,497.4 673.5,497.4 673.5,525.1 681,531.4 688.6,532.6 689.8,545.2 683.6,547.7 678.5,538.9 666,533.9 652.1,537.6 652.1,547.7 634.6,550.2 634.6,523.8"/>
<polyline fill="none" points="634.6,512.5 650.9,511.3 652.1,537.6"/>
<polyline fill="none" points="650.9,497.4 650.9,511.3"/>
<polygon fill="#0060ff" points="688.6,532.6 689.8,545.2 709.9,540.2 706.2,510 703.7,497.4 696.1,497.4 696.1,510 688.6,525.1"/>
<polygon fill="#0060ff" points="706.2,497.4 731.3,497.4 731.3,572.8 720,570.3 717.5,540.2 706.2,510"/>
<polyline fill="none" points="673.5,510 681,497.4"/>
<polyline fill="none" points="673.5,522.6 678.5,527.6 688.6,525.1"/>
<polyline fill="none" points="541.6,547.7 555.4,546.4 579.3,543.9 596.9,542.7"/>
<polyline fill="none" points="541.6,547.7 542.8,572.8 547.9,575.3 552.9,592.9 551.6,609.3"/>
<polyline fill="none" points="555.4,546.4 557.9,556.5 552.9,560.3 557.9,569.1 560.4,566.5 564.2,575.3 566.7,594.2 552.9,595.4"/>
<polyline fill="none" points="579.3,543.9 583,557.7 581.8,569.1 568,575.3 564.2,575.3"/>
<polyline fill="none" points="581.8,569.1 590.6,572.8 594.3,574.1"/>
<polyline fill="none" points="566.7,594.2 573,595.4 574.2,604.2 580.5,605.5 590.6,604.2 600.6,605.5"/>
<polyline fill="none" points="568,575.3 566.7,582.9 573,595.4"/>
<polyline fill="none" points="590.6,572.8 591.8,590.4 600.6,605.5 605.7,606.8 618.2,605.5"/>
<polyline fill="none" points="580.5,605.5 585.5,613 590.6,621.8"/>
<polyline fill="none" points="600.6,605.5 603.1,615.5 608.2,618.1 603.1,629.4"/>
<polyline fill="none" points="591.8,590.4 628.3,586.6 633.3,604.2"/>
<polyline fill="none" points="628.3,586.6 638.3,586.6 655.9,585.4 672.3,580.4 720,574.1 731.3,572.8"/>
<polyline fill="none" points="551.6,517.5 574.2,521.3 579.3,527.6 579.3,543.9"/>
<polyline fill="none" points="574.2,521.3 575.5,512.5 580.5,512.5 590.6,520.1 595.6,523.8 596.9,542.7"/>
<polyline fill="none" points="595.6,510 596.9,522.6 594.3,532.6 598.1,542.7 601.9,559 598.1,569.1 594.3,574.1 591.8,590.4"/>
<polyline fill="none" points="604.4,521.3 615.7,526.3 613.2,537.6 618.2,545.2 611.9,550.2 603.1,555.2"/>
<polyline fill="none" points="615.7,526.3 637.1,523.8"/>
<polyline fill="none" points="618.2,545.2 618.2,555.2 619.5,564 625.8,562.8 634.6,559 634.6,550.2"/>
<polyline fill="none" points="611.9,550.2 618.2,555.2"/>
<polyline fill="none" points="603.1,555.2 600.6,572.8 613.2,572.8 613.2,585.4"/>
<polyline fill="none" points="619.5,564 617,572.8 613.2,572.8"/>
<polyline fill="none" points="634.6,559 638.3,586.6"/>
<polyline fill="none" points="617,572.8 634.6,570.3"/>
<polyline fill="none" points="652.1,547.7 655.9,585.4"/>
<polyline fill="none" points="655.9,582.9 660.9,598"/>
<polyline fill="none" points="672.3,580.4 676,592.9"/>
<polyline fill="none" points="652.1,537.6 666,533.9 678.5,538.9 683.6,547.7 689.8,545.2 709.9,540.2 717.5,541.4"/>
<polyline fill="none" points="655.9,560.3 659.7,556.5 668.5,559 671,554 683.6,556.5 688.6,551.5 698.6,555.2 709.9,552.7 709.9,540.2"/>
<polygon fill="#ffffff" points="618.7,606 622,603 627,602.5 630,605 628.3,608.5 623.2,609.8 619.7,608.8"/>
</g>
<g clip-path="url(#c15)">
<polygon fill="#0060ff" points="389.5,429.5 609.2,429.5 609.2,628.3 389.5,628.3"/>
<polygon fill="#00c0ff" points="389.5,429.5 478.5,429.5 478.5,457.2 435.6,457.8 389.5,458.8"/>
<polyline fill="none" points="434.5,429.5 435.6,457.8"/>
<polygon fill="#0090ff" points="478.5,429.5 609.2,429.5 609.2,460.3 600,460.9 570.5,463 526.6,466.8 525.5,455.7 478.5,457.2"/>
<polyline fill="none" points="524.5,429.5 525.5,455.7"/>
<polyline fill="none" points="566.3,429.5 570.5,463"/>
<polyline fill="none" points="596.7,452.6 609.2,451.5"/>
<polyline fill="none" points="596.7,452.6 597.7,460.9"/>
<polygon fill="#00c0ff" points="436.6,457.8 484.7,456.9 481.6,467.2 483.7,474.5 479.5,478.7 435.6,478.7 434.5,470.3 438.7,467.2"/>
<polygon fill="#0090ff" points="484.7,456.9 525.5,455.7 526.6,476.6 514,478.7 511.9,485 499.4,485 497.3,479.7 483.7,474.5 481.6,467.2"/>
<polygon fill="#0090ff" points="426.2,485 431.4,485 436.6,481.8 435.6,478.7 459.6,479.7 479.5,478.7 483.7,474.5 497.3,479.7 496.2,490.2 500.4,496.5 493.1,500.7 492.1,506.9 484.7,508 471.1,510.1 471.1,513.2 462.8,513.2 461.7,523.7 454.4,525.8 441.8,522.6 433.5,518.5 426.2,513.2"/>
<polyline fill="none" points="459.6,479.7 458.6,490.2 452.3,494.4 451.3,502.8 431.4,503.8 426.2,504.9"/>
<polyline fill="none" points="458.6,490.2 461.7,498.6 462.8,513.2"/>
<polyline fill="none" points="492.1,506.9 504.6,514.3 506.7,519.5 504.6,528.9"/>
<polyline fill="none" points="504.6,514.3 508.8,513.2 510.9,503.8 519.2,501.7 521.3,496.5 529.7,493.3"/>
<polyline fill="none" points="497.3,479.7 499.4,485 511.9,485 514,478.7 526.6,476.6"/>
<polyline fill="none" points="397.9,470.3 426.2,470.3 426.2,485"/>
<polyline fill="none" points="436.6,457.8 439.7,460.9 438.7,467.2 434.5,470.3 436.6,481.8 431.4,485 426.2,485"/>
<polyline fill="none" points="426.2,513.2 433.5,518.5 441.8,522.6 454.4,525.8 461.7,523.7 464.9,530 471.1,530 480.5,533.1 487.9,530 496.2,532.1 504.6,528.9 517.2,526.8 531.8,532.1"/>
<polyline fill="none" points="525.5,455.7 526.6,476.6 529.7,493.3 531.8,532.1"/>
<polygon fill="#0090ff" points="404.2,502.8 414.6,501.7 414.6,492.3 426.2,492.3 426.2,513.2 433.5,518.5 441.8,522.6 454.4,525.8 454.4,532.1 445,533.1 443.9,541.5 435.6,542.5 432.4,553 432.4,571.8 439.7,572.8 440.8,586.4 419.9,584.4 418.8,573.9 389.5,572.8 389.5,543.6 404.2,542.5"/>
<polygon fill="#00c0ff" points="389.5,573.9 418.8,573.9 419.9,584.4 440.8,586.4 452.3,589.6 458.6,587.5 465.9,599 462.8,605.3 458.6,617.8 454.4,628.3 389.5,628.3"/>
<polygon fill="#0020ff" points="517.2,526.8 531.8,532.1 540.2,535.2 542.3,546.7 550.6,545.6 551.7,517.4 573.6,520.5 573.6,513.2 583.1,513.2 594.6,523.7 600,513.2 609.2,511.1 609.2,628.3 549.6,628.3 549.6,618.9 551.7,607.4 536,611.5 528.7,605.3 521.3,613.6 508.8,614.7 504.6,607.4 500.4,604.2 491,601.1 490,593.8 500.4,584.4 495.2,577 502.5,570.8 496.2,564.5 502.5,562.4 502.5,554 506.7,542.5 515.1,538.3"/>
<polyline fill="none" points="462.8,605.3 466.9,607.4 477.4,608.4 491,601.1"/>
<polyline fill="none" points="508.8,614.7 509.8,623.1"/>
<polygon fill="#0060ff" points="532.8,520.5 540.2,517.4 541.2,508 552.7,506.9 551.7,517.4 550.6,545.6 542.3,546.7 540.2,535.2 531.8,532.1"/>
<polyline fill="none" points="526.6,466.8 570.5,463 600,460.9"/>
<polyline fill="none" points="556.9,465.1 556.9,482.9 536,483.9 530.8,485 529.7,493.3"/>
<polyline fill="none" points="586.2,463.4 586.2,475.6 577.8,477.7 577.8,490.2 566.3,491.3 560,490.2 556.9,482.9"/>
<polyline fill="none" points="600,488.1 588.3,490.2 585.1,497.5 574.7,498.6 573.6,492.3 577.8,490.2"/>
<polyline fill="none" points="560,490.2 560,496.5 552.7,506.9"/>
<polyline fill="none" points="574.7,498.6 575.7,512.2 573.6,513.2"/>
<polyline fill="none" points="575.7,512.2 583.1,513.2"/>
<polyline fill="none" points="594.6,523.7 589.3,523.7 594.6,532.1 596.7,542.5"/>
<polyline fill="none" points="542.3,546.7 543.3,570.8 549.6,584.4 553.8,594.8 551.7,607.4"/>
<polyline fill="none" points="550.6,545.6 554.8,546.7 577.8,544.6 596.7,542.5 609.2,541.5"/>
<polyline fill="none" points="554.8,546.7 556.9,557.2 553.8,562.4 559,570.8 557.9,572.8 546.4,573.9"/>
<polyline fill="none" points="577.8,544.6 579.9,559.2 582,567.6 573.6,571.8 566.3,574.9 563.2,566.6 559,565.5 553.8,562.4"/>
<polyline fill="none" points="582,567.6 589.3,569.7 592.5,573.9 600,565.5"/>
<polyline fill="none" points="566.3,574.9 564.2,582.3 567.4,586.4 567.4,594.8 553.8,594.8"/>
<polyline fill="none" points="592.5,573.9 590.4,584.4 593.5,594.8 596.7,599"/>
<polyline fill="none" points="567.4,594.8 572.6,594.8 573.6,603.2 582,606.3 587.2,613.6"/>
<polyline fill="none" points="600,513.2 595.6,521.6 597.7,530 595.6,538.3 598.7,546.7 600,550.9"/>
</g>
<g clip-path="url(#c16)">
<polygon fill="#ffffff" points="473.7,593.7 605.7,593.7 605.7,713.1 473.7,713.1"/>
<polygon fill="#0020ff" points="473.7,593.7 605.7,593.7 605.7,623.9 600,623.9 595.6,623.2 588.1,622 584.3,624.5 578,625.1 568,622.6 557.9,621.4 550.4,623.2 542.8,625.8 532.8,630.8 525.2,636.4 522.7,642.7 512.7,649 502.6,654 492.6,658.4 486.3,665.3 482.5,671.6 480,680.4 473.7,681.7"/>
<polygon fill="#0060ff" points="473.7,610.1 480,607.5 491.3,601.3 500.1,607.5 503.9,612.6 505.1,620.1 509.5,622.6 508.9,615.1 521.5,613.8 523.4,608.8 529,605 535.3,612.6 545.3,609.4 551.6,608.8 552.3,616.3 550.4,623.2 542.8,625.8 532.8,630.8 525.2,636.4 522.7,642.7 512.7,649 502.6,654 492.6,658.4 486.3,665.3 482.5,671.6 480,680.4 473.7,681.7"/>
<polyline fill="none" points="507,625.8 501.4,627 498.8,632.7 492.6,639 483.8,645.9 482.5,647.7 485,650.3 485.7,655.3 491.3,656.5 492.6,658.4"/>
<polyline fill="none" points="505.1,620.1 507,625.8"/>
<polyline fill="none" points="551.6,593.7 551,608.8 552.3,616.3 550.4,623.2"/>
<polyline fill="none" points="573,598.7 574.2,603.8 581.8,605 585.5,606.3 580.5,610.1 584.3,613.8 586.8,618.8 584.3,624.5"/>
<polyline fill="none" points="585.5,606.3 590.6,603.8 595.6,605.7 600,605"/>
<polygon fill="#ffffff" points="526.5,625.1 530.3,623.2 532.1,626.4 535.3,628.3 530.3,631.4 527.7,628.9"/>
<polygon fill="#ffffff" points="548.5,618.8 550.4,617.6 551.4,619.5 549.7,621.6"/>
<polygon fill="#ffffff" points="584.3,620.1 589.3,618.8 593.1,621.4 590.6,624.5 586.8,623.2"/>
<polygon fill="#ffffff" points="495.1,650.3 498.8,649.6 502.6,651.5 503.9,654 498.8,655.9"/>
<polygon fill="#0090ff" points="473.7,705.5 480,706.2 482.5,713.1 473.7,713.1"/>
</g>
<g clip-path="url(#c17)">
<polygon fill="#ffffff" points="393.7,593.7 525.7,593.7 525.7,713.1 393.7,713.1"/>
<polygon fill="#00c0ff" points="393.7,593.7 465.3,593.7 461.6,607.5 460.3,615.1 455.3,621.4 447.7,626.4 444.6,629.5 437.1,628.9 436.4,641.5 412.6,641.5 408.8,637.7 400,629.5 393.7,625.1"/>
<polygon fill="#0060ff" points="465.3,593.7 493,593.7 499.3,605 503,610.1 504.9,618.8 507.4,623.2 506.8,626.4 501.8,627 498,632.7 490.5,640.2 483.6,646.5 485.4,655.3 490.5,655.9 493,657.8 488,662.8 482.9,670.4 480.4,680.4 478.5,684.2 472.3,682.9 465.3,686.1 463.5,676.6 467.2,671.6 468.5,662.8 465.3,650.3 460.3,644 454,639 447.7,637.1 447.1,641.5 436.4,641.5 437.1,628.9 444.6,629.5 447.7,626.4 455.3,621.4 460.3,615.1 461.6,607.5"/>
<polyline fill="none" points="462.8,605.7 466.6,608.8 475.4,609.4 481.7,606.3 488,602.5 493,601.3 499.3,605"/>
<polygon fill="#0020ff" points="493,593.7 525.7,593.7 525.7,611.3 513.1,613.8 509.3,615.1 510.6,622 507.4,623.2 504.9,618.8 503,610.1 499.3,605 493,598.7"/>
<polygon fill="#0060ff" points="509.3,615.1 513.1,613.8 525.7,611.3 525.7,642.7 520,645.2 510.6,650.3 504.3,652.8 500.5,650.3 495.5,656.5 493,657.8 490.5,655.9 485.4,655.3 483.6,646.5 490.5,640.2 498,632.7 501.8,627 506.8,626.4 507.4,623.2 510.6,622"/>
<polygon fill="#0090ff" points="412.6,641.5 436.4,641.5 447.1,641.5 447.7,637.1 454,639 460.3,644 465.3,650.3 468.5,662.8 467.2,671.6 463.5,676.6 465.3,686.1 472.3,682.9 478.5,684.2 478.5,690.5 479.2,699.3 482.3,708.1 482.9,713.1 461.6,713.1 460.3,709.9 452.8,708.1 444,704.3 441.5,695.5 437.1,688 435.8,677.9 428.9,672.9 418.8,659.1 415.1,650.3"/>
<polyline fill="none" points="454,706.8 458.4,696.8 465.3,696.8 466,700.5 479.2,700.5"/>
<polygon fill="#ffffff" points="480.4,671 483.6,670.4 482.3,672.9 480.4,672.9"/>
<polygon fill="#ffffff" points="495.5,651.5 500.5,650.3 504.3,652.8 500.5,655.3 496.8,654"/>
</g>
<g clip-path="url(#c18)">
<polygon fill="#0060ff" points="707.4,497.4 820.5,497.4 820.5,510 813,517.5 802.9,526.3 797.9,535.1 794.1,547.7 792.9,564 794.1,570.3 800.4,582.9 806.7,596.7 815.5,609.3 821.8,614.3 821.8,620.6 828.1,630.6 834.3,640.7 841.9,651.2 843.4,663.8 844.4,674.1 843.4,678.4 841.9,684.4 840.9,688.7 836.6,691.9 832.3,693.5 828.3,693 825.3,690.7 822,684.4 819,680.4 814.7,678.9 809.5,678.4 801.7,665.8 799.2,658.3 794.1,658.3 787.9,649.5 784.1,645.7 786.6,638.2 780.3,640.7 779.1,630.6 779.1,618.1 776.5,610.5 769,608 760.2,600.5 752.7,594.2 745.1,591.7 738.8,596.7 731.3,600.5 720,604.2 707.4,605.5"/>
<polygon fill="#0090ff" points="777.8,497.4 820.5,497.4 820.5,510 813,517.5 802.9,526.3 797.9,535.1 790.4,525.1 782.8,515 777.8,510"/>
<polygon fill="#0020ff" points="707.4,545.2 738.8,541.4 742.6,569.1 747.6,570.3 748.9,576.6 726.3,579.1 720,574.1 707.4,572.8"/>
<polygon fill="#0020ff" points="707.4,572.8 720,574.1 726.3,579.1 748.9,576.6 774,572.8 779.1,572.8 781.6,576.6 782.8,569.1 792.9,568.3 794.1,570.3 800.4,582.9 806.7,596.7 815.5,609.3 816.8,616.8 795.4,623.1 789.1,628.1 779.1,630.6 779.1,618.1 776.5,610.5 769,608 760.2,600.5 752.7,594.2 745.1,591.7 738.8,596.7 731.3,600.5 720,604.2 707.4,605.5"/>
<polyline fill="none" points="780.3,598 787.9,598 795.4,596.7 797.9,598 805.4,595.4"/>
<polyline fill="none" points="780.3,598 779.1,610.5"/>
<polyline fill="none" points="748.9,576.6 746.4,590.4"/>
<polygon fill="#0090ff" points="792.9,654.5 811.7,650.7 814.2,645.7 829.3,641.9 834.3,640.7 841.9,651.2 843.4,663.8 844.4,674.1 843.4,678.4 841.9,684.4 840.9,688.7 836.6,691.9 832.3,693.5 828.3,693 825.3,690.7 822,684.4 819,680.4 814.7,678.9 809.5,678.4 801.7,665.8 799.2,658.3 794.1,658.3"/>
<polyline fill="none" points="829.3,641.9 834.3,654.5 837.1,670.8 836.9,683.4 833.6,693"/>
<polyline fill="none" points="732.6,497.4 731.3,523.8 738.8,535.1 738.8,541.4"/>
<polyline fill="none" points="756.4,497.4 756.4,510 764,521.3 761.5,528.8 767.7,533.9 767.7,543.9 759,541.4 752.7,543.9 745.1,540.2 738.8,541.4"/>
<polyline fill="none" points="767.7,533.9 784.1,533.9 791.6,532.6 797.9,535.1"/>
<polyline fill="none" points="767.7,543.9 766.5,557.7 774,572.8"/>
<polyline fill="none" points="816.8,616.8 821.8,620.6"/>
<polygon fill="#ffffff" points="780.3,634.4 786.6,635.7 785.8,640.7 781.6,641.2"/>
<polygon fill="#ffffff" points="818,611.8 821.3,614.3 821.3,620.6 818.5,616.8"/>
<polygon fill="#0090ff" points="844.4,682.4 846.4,683.4 845.9,688.7 842.9,693 837.6,695 831.3,697 830.3,695.5 836.6,693.5 841.9,691.2 844.4,687.7"/>
<polygon fill="#0090ff" points="815.7,696.5 818,696 820.5,696.7 820,698.2 817.5,698.5 815.7,697.7"/>
<polygon fill="#0090ff" points="823.3,696.5 825.5,696 828.3,696.7 827.8,698.2 825.3,698.5 823.3,697.7"/>
</g>
<g clip-path="url(#c19)">
<polygon fill="#ffffff" points="569.5,469.5 789.2,469.5 789.2,668.3 569.5,668.3"/>
<polygon fill="#0020ff" points="569.5,469.5 789.2,469.5 789.2,626.4 778.7,640 777.7,613.9 770.4,607.6 759.9,602.4 753.6,596.1 745.3,591.9 739,596.1 730.6,601.3 720.2,604.5 716,597.2 709.7,593 699.2,589.8 688.8,591.9 680,595.5 675.8,597.2 669.5,599.2 666.8,595.7 664.7,590.5 663.3,597.8 659.1,598.2 652.8,598.2 644.4,599.2 638.2,601.8 634.2,604.9 632.1,609.1 636.3,611.2 637.3,607.6 639.8,608 640.3,612.2 636.7,614.9 634.2,618.5 638.2,620.6 644.4,623.1 648.6,626.9 647.6,631 644.4,630 641.3,633.1 640.9,629 635.2,624.8 629,622.7 624.8,621.6 627.9,624.8 627.3,629 624.8,631.5 622.7,627.9 618.5,626.9 615.4,630 611.2,631.5 605.9,631 602.4,629 603.4,625.8 598.8,624.8 593.6,621.6 591.5,619.5 588.4,620.6 591.5,624.1 589.4,625.8 586.3,623.7 583.1,621.6 580,625.2 569.5,626.4"/>
<polygon fill="#ffffff" points="618.5,607 621.6,602.4 625.8,602.4 629.8,605.5 627.9,608.7 624.8,609.7 619.5,608.7"/>
<polygon fill="#0060ff" points="613.5,469.5 789.2,469.5 789.2,475.8 734.8,480 716,482.1 684.6,487.3 651.1,491.5 632.3,493.6 610.3,495.7 608.2,497.8 611.4,488.4 613.5,480"/>
<polygon fill="#0060ff" points="569.5,469.5 613.5,469.5 613.5,480 611.4,488.4 608.2,497.8 603,511.4 596.7,521.8 589.4,519.7 580,512.4 569.5,511.4"/>
<polygon fill="#0060ff" points="608.2,497.8 610.3,495.7 611.4,505.1 613.5,513.5 617.7,517.7 618.7,525 605.1,532.3 595.7,530.2 596.7,521.8 603,511.4"/>
<polyline fill="none" points="600.9,499.9 588.4,488.4 580,490.5"/>
<polyline fill="none" points="608.2,497.8 600.9,499.9"/>
<polygon fill="#0060ff" points="632.3,493.6 651.1,491.5 684.6,487.3 685.6,497.8 682.5,498.8 682.5,504.1 652.2,506.2 652.2,512.4 653.2,548 635.4,550.1 635.4,523.9 633.3,513.5 631.3,514.5 630.2,503"/>
<polyline fill="none" points="651.1,491.5 652.2,506.2"/>
<polyline fill="none" points="631.3,514.5 652.2,512.4"/>
<polygon fill="#0060ff" points="684.6,487.3 699.2,485.2 698.2,494.6 691.9,500.9 686.7,507.2 684.6,517.7 682.5,522.9 677.3,529.2 686.7,532.3 690.9,542.8 684.6,546.9 682.5,549 678.3,540.7 672.1,537.5 660.5,535.4 653.2,537.5 652.2,506.2 682.5,504.1 682.5,498.8 685.6,497.8"/>
<polyline fill="none" points="673.1,507.2 675.2,517.7 672.1,526 677.3,529.2"/>
<polygon fill="#0060ff" points="699.2,485.2 716,482.1 734.8,480 789.2,475.8 789.2,572.1 773.5,573.1 748.4,577.3 743.2,561.6 739,540.7 728.5,544.9 718.1,544.9 716,540.7 706.6,508.2 703.4,506.2 698.2,494.6"/>
<polyline fill="none" points="716,482.1 718.1,507.2 724.4,509.3 718.1,513.5 706.6,508.2"/>
<polyline fill="none" points="734.8,480 736.9,490.5 745.3,499.9 741.1,505.1 732.7,508.2 724.4,509.3"/>
<polyline fill="none" points="732.7,508.2 734.8,530.2 739,540.7 745.3,539.6 753.6,543.8 766.2,541.7 767.2,557.4 773.5,573.1"/>
<polyline fill="none" points="745.3,499.9 757.8,505.1 764.1,515.6 768.3,532.3 766.2,541.7"/>
<polyline fill="none" points="757.8,505.1 768.3,492.6 780.8,500.9"/>
<polyline fill="none" points="768.3,532.3 780.8,533.3"/>
<polyline fill="none" points="698.2,494.6 703.4,506.2 699.2,514.5 694,525 686.7,532.3"/>
<polyline fill="none" points="610.3,495.7 611.4,505.1 613.5,513.5 617.7,517.7 618.7,525 635.4,523.9"/>
<polyline fill="none" points="618.7,525 616.6,534.4 612.4,540.7 619.7,546.9 613.5,553.2 617.7,556.4 618.7,564.7 634.4,560.5 635.4,550.1"/>
<polyline fill="none" points="598.8,565.8 606.2,555.3 617.7,556.4"/>
<polyline fill="none" points="606.2,555.3 607.2,549 600.9,542.8 598.8,540.7"/>
<polyline fill="none" points="618.7,564.7 617.7,574.1 613.5,582.5 612.4,587.7"/>
<polyline fill="none" points="590.5,589.8 592.6,589.8 629.2,587.7 655.3,582.5 726.4,580.4 748.4,577.3"/>
<polyline fill="none" points="634.4,560.5 636.5,580.4 638.6,586.7"/>
<polyline fill="none" points="629.2,587.7 634.4,603.4"/>
<polyline fill="none" points="653.2,537.5 653.2,548 655.3,582.5 657.4,597.2"/>
<polyline fill="none" points="658.5,560.5 660.5,553.2 670,554.3 670,558.5 683.6,556.4 690.9,553.2 700.3,552.2 705.5,554.3 710.8,551.1 710.8,540.7"/>
<polyline fill="none" points="690.9,542.8 701.3,540.7 716,540.7 718.1,544.9 721.2,572.1 726.4,580.4 720.2,604.5"/>
<polyline fill="none" points="672.1,582.5 671,577.3 666.8,578.3 665.8,590.9"/>
<polyline fill="none" points="748.4,577.3 745.3,591.9"/>
<polyline fill="none" points="613.5,480 611.4,488.4 608.2,497.8 603,511.4 596.7,521.8 594.6,530.2 598.8,540.7 597.8,549 600.9,558.5 596.7,570 592.6,580.4 590.5,589.8 598.8,605.5 605.1,606.6 618.7,605.5"/>
<polyline fill="none" points="577.9,542.8 595.7,541.7"/>
<polyline fill="none" points="577.9,570 588.4,568.9 592.6,580.4"/>
<polyline fill="none" points="598.8,605.5 586.3,605.5 577.9,607.6"/>
<polyline fill="none" points="605.1,606.6 608.2,616 604.1,629.6"/>
<polyline fill="none" points="580,512.4 589.4,519.7 596.7,521.8"/>
</g>
<g clip-path="url(#c20)">
<polygon fill="#ffffff" points="689.5,389.5 909.2,389.5 909.2,588.3 689.5,588.3"/>
<polygon fill="#0060ff" points="689.5,389.5 854.8,389.5 854.8,400 865.3,412.6 869.5,417.8 877.8,427.2 874.7,431.4 873.6,437.7 869.5,440.8 868.4,450.2 863.2,455.4 852.7,460.7 846.4,471.1 844.4,480.5 833.9,483.7 827.6,492.1 823.4,502.5 813,514 802.5,527.6 798.3,536 794.1,546.4 792.1,561.1 794.1,567.4 800.4,588.3 689.5,588.3"/>
<polygon fill="#0090ff" points="739.7,389.5 762.8,389.5 762.8,400 758.6,408.4 752.3,414.6 745,406.3"/>
<polygon fill="#0090ff" points="798.3,389.5 808.8,389.5 808.8,400 816.1,412.6 815.1,424.1 783.7,431.8 781.6,431.4 785.8,416.7 798.3,400"/>
<polygon fill="#00c0ff" points="808.8,389.5 836,389.5 836,400 831.8,420.9 815.1,424.1 816.1,412.6 808.8,400"/>
<polygon fill="#0090ff" points="836,389.5 854.8,389.5 854.8,400 865.3,412.6 831.8,420.9 836,400"/>
<polyline fill="none" points="723,397.9 720.9,408.4 712.6,414.6 704.2,429.3 697.9,435.6"/>
<polyline fill="none" points="752.3,414.6 741.8,427.2 729.3,439.7"/>
<polyline fill="none" points="752.3,414.6 760.7,419.9 779.5,413.6 785.8,416.7"/>
<polyline fill="none" points="762.8,400 766.9,408.4 779.5,413.6"/>
<polygon fill="#00c0ff" points="783.7,431.8 831.8,420.9 865.3,412.6 869.5,417.8 877.8,427.2 874.7,431.4 873.6,437.7 869.5,440.8 868.4,450.2 863.2,455.4 852.7,460.7 846.4,456.5 838.1,452.3 827.6,451.3 823.4,447.1 827.6,438.7 820.3,435.6 817.2,440.8 792.1,443.9 785.8,442.9"/>
<polyline fill="none" points="831.8,420.9 830.8,429.3 827.6,438.7 838.1,438.7 846.4,436.6 873.6,437.7"/>
<polygon fill="#0090ff" points="762.8,435.6 783.7,431.8 785.8,442.9 792.1,443.9 817.2,440.8 820.3,435.6 827.6,438.7 823.4,447.1 827.6,451.3 838.1,452.3 846.4,456.5 852.7,460.7 846.4,471.1 844.4,480.5 833.9,483.7 808.8,468 790,470.1 782.6,465.9 769,466.5 769,458.6 770.1,451.3 759.6,448.1"/>
<polyline fill="none" points="785.8,442.9 771.1,445 770.1,451.3"/>
<polyline fill="none" points="823.4,447.1 816.1,449.2 815.1,452.3 771.1,457.5 769,458.6"/>
<polyline fill="none" points="815.1,452.3 808.8,468"/>
<polyline fill="none" points="697.9,445.2 762.8,435.6 783.7,431.8 831.8,420.9 865.3,412.6"/>
<polyline fill="none" points="714.6,445 712.6,456.5 704.2,464.9 697.9,471.1"/>
<polyline fill="none" points="720.9,479.5 722,473.2 728.2,466.9 741.8,456.5 754.4,447.1 759.6,448.1"/>
<polyline fill="none" points="697.9,482.8 720.9,479.5 769,466.5 782.6,465.9"/>
<polygon fill="#0090ff" points="743.9,480.5 754.4,474.3 769,466.5 775.3,466.9 782.6,465.9 790,470.1 808.8,468 833.9,483.7 827.6,492.1 823.4,502.5 808.8,499.4 807.7,487.9 798.3,481.6 792.1,487.9 781.6,485.8 777.4,481.6 773.2,482.6 769,487.9 761.7,484.7 754.4,491 749.2,484.7 745,483.7"/>
<polyline fill="none" points="775.3,466.9 777.4,481.6"/>
<polyline fill="none" points="790,470.1 798.3,481.6"/>
<polygon fill="#0090ff" points="777.4,510.9 784.7,502.5 794.1,508.8 804.6,504.6 808.8,499.4 823.4,502.5 813,514 802.5,527.6 798.3,536 792.1,531.8 787.9,523.4"/>
<polyline fill="none" points="754.4,491 756.5,493.1 766.9,504.6 777.4,510.9"/>
<polyline fill="none" points="781.6,485.8 778.5,494.1 784.7,502.5"/>
<polyline fill="none" points="715.7,482.6 717.8,504.6 716.7,508.8 705.2,507.7 700,492.1"/>
<polyline fill="none" points="734.5,479.5 737.7,492.1 745,500.4 762.8,502.5 766.9,504.6"/>
<polyline fill="none" points="743.9,480.5 740.8,483.7 745,490 754.4,491"/>
<polyline fill="none" points="717.8,504.6 731.4,508.8 738.7,504.6 745,500.4"/>
<polyline fill="none" points="731.4,508.8 733.5,525.5 738.7,533.9 738.7,543.3"/>
<polyline fill="none" points="756.5,506.7 762.8,519.2 762.8,529.7 769,533.9 792.1,531.8"/>
<polyline fill="none" points="705.2,507.7 710.5,523.4 717.8,544.4"/>
<polyline fill="none" points="716.7,508.8 720.9,514 731.4,508.8"/>
<polyline fill="none" points="738.7,543.3 750.2,539.1 758.6,544.4 768,544.4 769,533.9"/>
<polyline fill="none" points="768,544.4 766.9,559 773.2,573.6 781.6,573.6"/>
<polygon fill="#0020ff" points="697.9,483.7 700,492.1 705.2,507.7 710.5,523.4 717.8,544.4 738.7,543.3 741.8,561.1 749.2,575.7 781.6,573.6 783.7,567.4 794.1,567.4 800.4,588.3 689.5,588.3 689.5,483.7"/>
<polyline fill="none" points="695.8,540.6 708.4,540.2 710.5,548.5 705.2,554.8 695.8,552.7"/>
<polyline fill="none" points="697.9,577.8 726.2,579.9 749.2,576.2"/>
</g>
<g clip-path="url(#c21)">
<polygon fill="#ffffff" points="815.8,335.8 903.4,335.8 903.4,415.1 815.8,415.1"/>
<polygon fill="#30ffd0" points="815.8,335.8 852.1,335.8 852.1,340 850.9,342.5 847.5,345 846.7,349.2 844.2,351.7 843.8,356.7 841.7,355 839.2,356.7 835.8,362.5 832.5,362.9 825,360.9 823.3,358.4 820,357.5 815.8,357.1"/>
<polyline fill="none" points="819.2,348.5 850.9,342.1"/>
<polyline fill="none" points="820,348.5 820.8,356.7"/>
<polygon fill="#60ffa0" points="852.1,335.8 878.4,335.8 876.7,343.3 873.4,348.3 870.9,354.2 869.2,353.3 870.1,347.5 866.7,348.3 861.7,347.1 856.7,343.3 855,340"/>
<polyline fill="none" points="874.2,340 872.6,345.8 870.1,353.3"/>
<polygon fill="#30ffd0" points="852.1,335.8 855,340 856.7,343.3 857.1,348.3 855,349.2 853.4,345 852.1,340"/>
<polygon fill="#00c0ff" points="855,349.2 857.1,348.3 859.2,348.3 861.7,351.7 866.7,357.5 869.2,359.2 870.9,364.2 859.6,367.9 857.5,360 855.9,352.5"/>
<polygon fill="#00ffff" points="846.7,351.7 853.4,349.2 855,349.2 855.9,352.5 854.2,356.7 852.5,360.9 848.4,359.2 849.2,355.8 847.5,354.2"/>
<polygon fill="#00c0ff" points="852.5,360.9 854.2,356.7 855.9,352.5 857.5,360 859.6,367.9 858,371.7 855,373.4 850.9,371.7 850,368.4 853.4,366.7 850.9,365 849.2,362.5"/>
<polygon fill="#00c0ff" points="859.6,367.9 870.9,364.2 871.3,368.4 869.2,375 865,378.4 860.9,379.2 859.2,375 858,371.7"/>
<polygon fill="#0090ff" points="864.2,378.4 867.5,378.4 868,383.4 866.7,389.2 865,390.1 864.2,396.7 863,398.8 861.3,396.7 861.7,389.2 863.4,385"/>
<polygon fill="#00ffff" points="835.8,362.5 839.2,356.7 841.7,355 843.8,356.7 844.2,363.4 845.9,368.4 848.4,373.4 844.2,370.9 841.7,369.2 836.7,368.4 835,365"/>
<polygon fill="#00ffff" points="815.8,357.1 820,357.5 823.3,358.4 825,360.9 832.5,362.9 835.8,362.5 835,365 836.7,368.4 834.2,370 832.5,373.4 828.3,375 825.8,379.2 822.5,384.2 820,387.5 815.8,388.4"/>
<polygon fill="#00c0ff" points="832.5,373.4 834.2,370 836.7,368.4 841.7,369.2 844.2,370.9 848.4,373.4 849.2,376.7 850.9,379.2 847.5,378.4 843.4,379.2 838.4,377.5 835,375.9"/>
<polygon fill="#0090ff" points="825.8,379.2 828.3,375 832.5,373.4 835,375.9 838.4,377.5 843.4,379.2 847.5,378.4 850.9,379.2 853.4,383.4 855,390.1 856.7,395.1 855.9,398.4 853.4,397.6 847.5,394.2 851.7,398.4 855,400.9 858.4,401.7 858.8,405.1 855,405.9 851.7,402.6 845,400.1 838.4,400.9 837.5,393.4 834.6,390.1 836.7,385 835.8,381.7 828.3,380"/>
<polygon fill="#00c0ff" points="815.8,388.4 820,387.5 822.5,384.2 825.8,379.2 828.3,380 835.8,381.7 836.7,385 834.6,390.1 837.5,393.4 838.4,400.9 836.7,406.7 835.8,415.1 815.8,415.1"/>
<polygon fill="#0090ff" points="838.4,400.9 845,400.1 851.7,402.6 855,405.9 858.8,405.1 863.4,404.7 866.7,409.2 869.2,415.1 835.8,415.1 836.7,406.7"/>
</g>
<g clip-path="url(#c22)">
<polygon fill="#ffffff" points="815.8,385.8 903.4,385.8 903.4,465.1 815.8,465.1"/>
<polygon fill="#00c0ff" points="815.8,385.8 834.2,385.8 834.2,390 836.7,393.3 837.5,401.3 834.2,414.2 832.5,420 830,421.5 820,424.2 815.8,425"/>
<polygon fill="#0090ff" points="834.2,385.8 856.7,385.8 855.9,392.5 856.7,396.7 853.4,397.5 847.5,394.2 846.7,395 852.5,398.3 856.7,400 858.4,402.5 858.8,405 863.4,404.6 865.5,407.9 867.1,412.5 830,421.5 832.5,420 834.2,414.2 837.5,401.3 836.7,393.3 834.2,390"/>
<polyline fill="none" points="837.5,401.3 838.4,400.8 845,400.4 850.9,402.5 855,406.3 857.5,405"/>
<polygon fill="#0090ff" points="861.3,385.8 865.9,385.8 864.6,396.7 863,398.8 861.3,396.7"/>
<polygon fill="#00c0ff" points="830,421.5 865.5,412.5 867.1,412.5 868,417.5 865.5,419.2 863.4,418.8 864.2,421.7 861.7,423.4 859.2,422.7 860,425 858,427.5 861.7,426 866.7,425.5 869.2,427.1 869.1,430.9 870.5,431.7 870.9,428 873.4,426.3 875.5,428.8 875.1,432.5 872.6,434.2 873.4,436.7 870.9,440.1 866.7,441.1 863.4,440.1 862.1,438.4 861.7,435 853.4,436.7 847.5,437.1 842.5,435.5 838.4,438.8 835.8,437.1 830.8,439.6 827.5,440.1 829.2,433.4 830.8,426.7"/>
<polygon fill="#00c0ff" points="815.8,425 820,424.2 830,421.5 830.8,426.7 829.2,433.4 827.5,440.1 822.5,447.6 815.8,447.6"/>
<polygon fill="#0090ff" points="815.8,435.5 820,435.5 826.7,439.2 827.5,440.1 822.5,447.6 815.8,448"/>
<polygon fill="#00c0ff" points="827.5,440.1 830.8,439.6 835.8,437.1 838.4,438.8 842.5,435.5 847.5,437.1 853.4,436.7 861.7,435 862.1,438.4 860.5,440.1 853.4,440.1 860.5,441.1 864.2,443.4 865,445.9 862.1,447.6 864.2,448.8 869.2,448 870.1,449.6 868,454.2 863.4,456.7 859.2,458 855.9,459.2 854.2,460.1 849.2,456.7 841.7,455.1 836.7,452.1 828.3,452.1 822.5,447.6"/>
<polygon fill="#0090ff" points="815.8,448 822.5,447.6 828.3,452.1 836.7,452.1 841.7,455.1 849.2,456.7 854.2,460.1 854.2,465.1 815.8,465.1"/>
<polyline fill="none" points="865.5,407.9 871.7,418.4 879.2,427.1"/>
<polyline fill="none" points="854.2,421.7 854.6,425 856.7,428.4 858,427.5"/>
<polyline fill="none" points="854.2,448.8 857.5,451.7 861.7,452.1 865.5,448.4"/>
</g>
<g>
<polyline fill="none" points="72.4,305 67.4,311.2 57.4,317.5 37.5,313.7 35,319.9 25,331.2 23.7,344.9 20,358.7 32.5,374.9 35.2,385.4"/>
<polyline fill="none" points="79.4,306.7 74.9,317.5 68.7,324.9 57.4,336.2 67.4,349.9 71.2,357.4 64.9,364.9 67.7,376.6"/>
<polyline fill="none" points="79.9,306.2 71.2,379.9"/>
</g>
</g>
<g class="leg">
<rect x="11" y="788.7" width="55.29" height="55.5" fill="#0020ff"/>
<rect x="66.29" y="788.7" width="55.29" height="55.5" fill="#0060ff"/>
<rect x="121.59" y="788.7" width="55.29" height="55.5" fill="#0090ff"/>
<rect x="176.88" y="788.7" width="55.29" height="55.5" fill="#00c0ff"/>
<rect x="232.18" y="788.7" width="55.29" height="55.5" fill="#00ffff"/>
<rect x="287.47" y="788.7" width="55.29" height="55.5" fill="#30ffd0"/>
<rect x="342.76" y="788.7" width="55.29" height="55.5" fill="#60ffa0"/>
<rect x="398.06" y="788.7" width="55.29" height="55.5" fill="#99ff66"/>
<rect x="453.35" y="788.7" width="55.29" height="55.5" fill="#ffffff"/>
<rect x="508.65" y="788.7" width="55.29" height="55.5" fill="#ffff00"/>
<rect x="563.94" y="788.7" width="55.29" height="55.5" fill="#ffcc00"/>
<rect x="619.24" y="788.7" width="55.29" height="55.5" fill="#ff9900"/>
<rect x="674.53" y="788.7" width="55.29" height="55.5" fill="#ff6600"/>
<rect x="729.82" y="788.7" width="55.29" height="55.5" fill="#ff3300"/>
<rect x="785.12" y="788.7" width="55.29" height="55.5" fill="#ff0000"/>
<rect x="840.41" y="788.7" width="55.29" height="55.5" fill="#c00000"/>
<rect x="895.71" y="788.7" width="55.29" height="55.5" fill="#800000"/>
</g>
<text x="40.6" y="873" font-size="28.6" textLength="67.8" lengthAdjust="spacingAndGlyphs">−7.0</text>
<text x="150.5" y="873" font-size="28.6" textLength="69.5" lengthAdjust="spacingAndGlyphs">−5.0</text>
<text x="261.3" y="873" font-size="28.6" textLength="69.1" lengthAdjust="spacingAndGlyphs">−3.0</text>
<text x="372.6" y="873" font-size="28.6" textLength="66.4" lengthAdjust="spacingAndGlyphs">−1.0</text>
<text x="506.5" y="873" font-size="28.6" textLength="38.5" lengthAdjust="spacingAndGlyphs">1.0</text>
<text x="612.5" y="873" font-size="28.6" textLength="43.5" lengthAdjust="spacingAndGlyphs">3.0</text>
<text x="723.5" y="873" font-size="28.6" textLength="44" lengthAdjust="spacingAndGlyphs">5.0</text>
<text x="836" y="873" font-size="28.6" textLength="41.5" lengthAdjust="spacingAndGlyphs">7.0</text>
<text x="634" y="779.8" font-size="19.5" textLength="48.6" lengthAdjust="spacingAndGlyphs" stroke="#000" stroke-width="0.6">NOAA</text>
<text x="692.8" y="779.8" font-size="19.5" textLength="35.6" lengthAdjust="spacingAndGlyphs" stroke="#000" stroke-width="0.6">PSL</text>
<text x="738" y="779.8" font-size="19.5" textLength="33.5" lengthAdjust="spacingAndGlyphs" stroke="#000" stroke-width="0.6">and</text>
<text x="782.6" y="779.8" font-size="19.5" textLength="96.1" lengthAdjust="spacingAndGlyphs" stroke="#000" stroke-width="0.6">CIRES−CU</text>
</svg>
</body></html>
